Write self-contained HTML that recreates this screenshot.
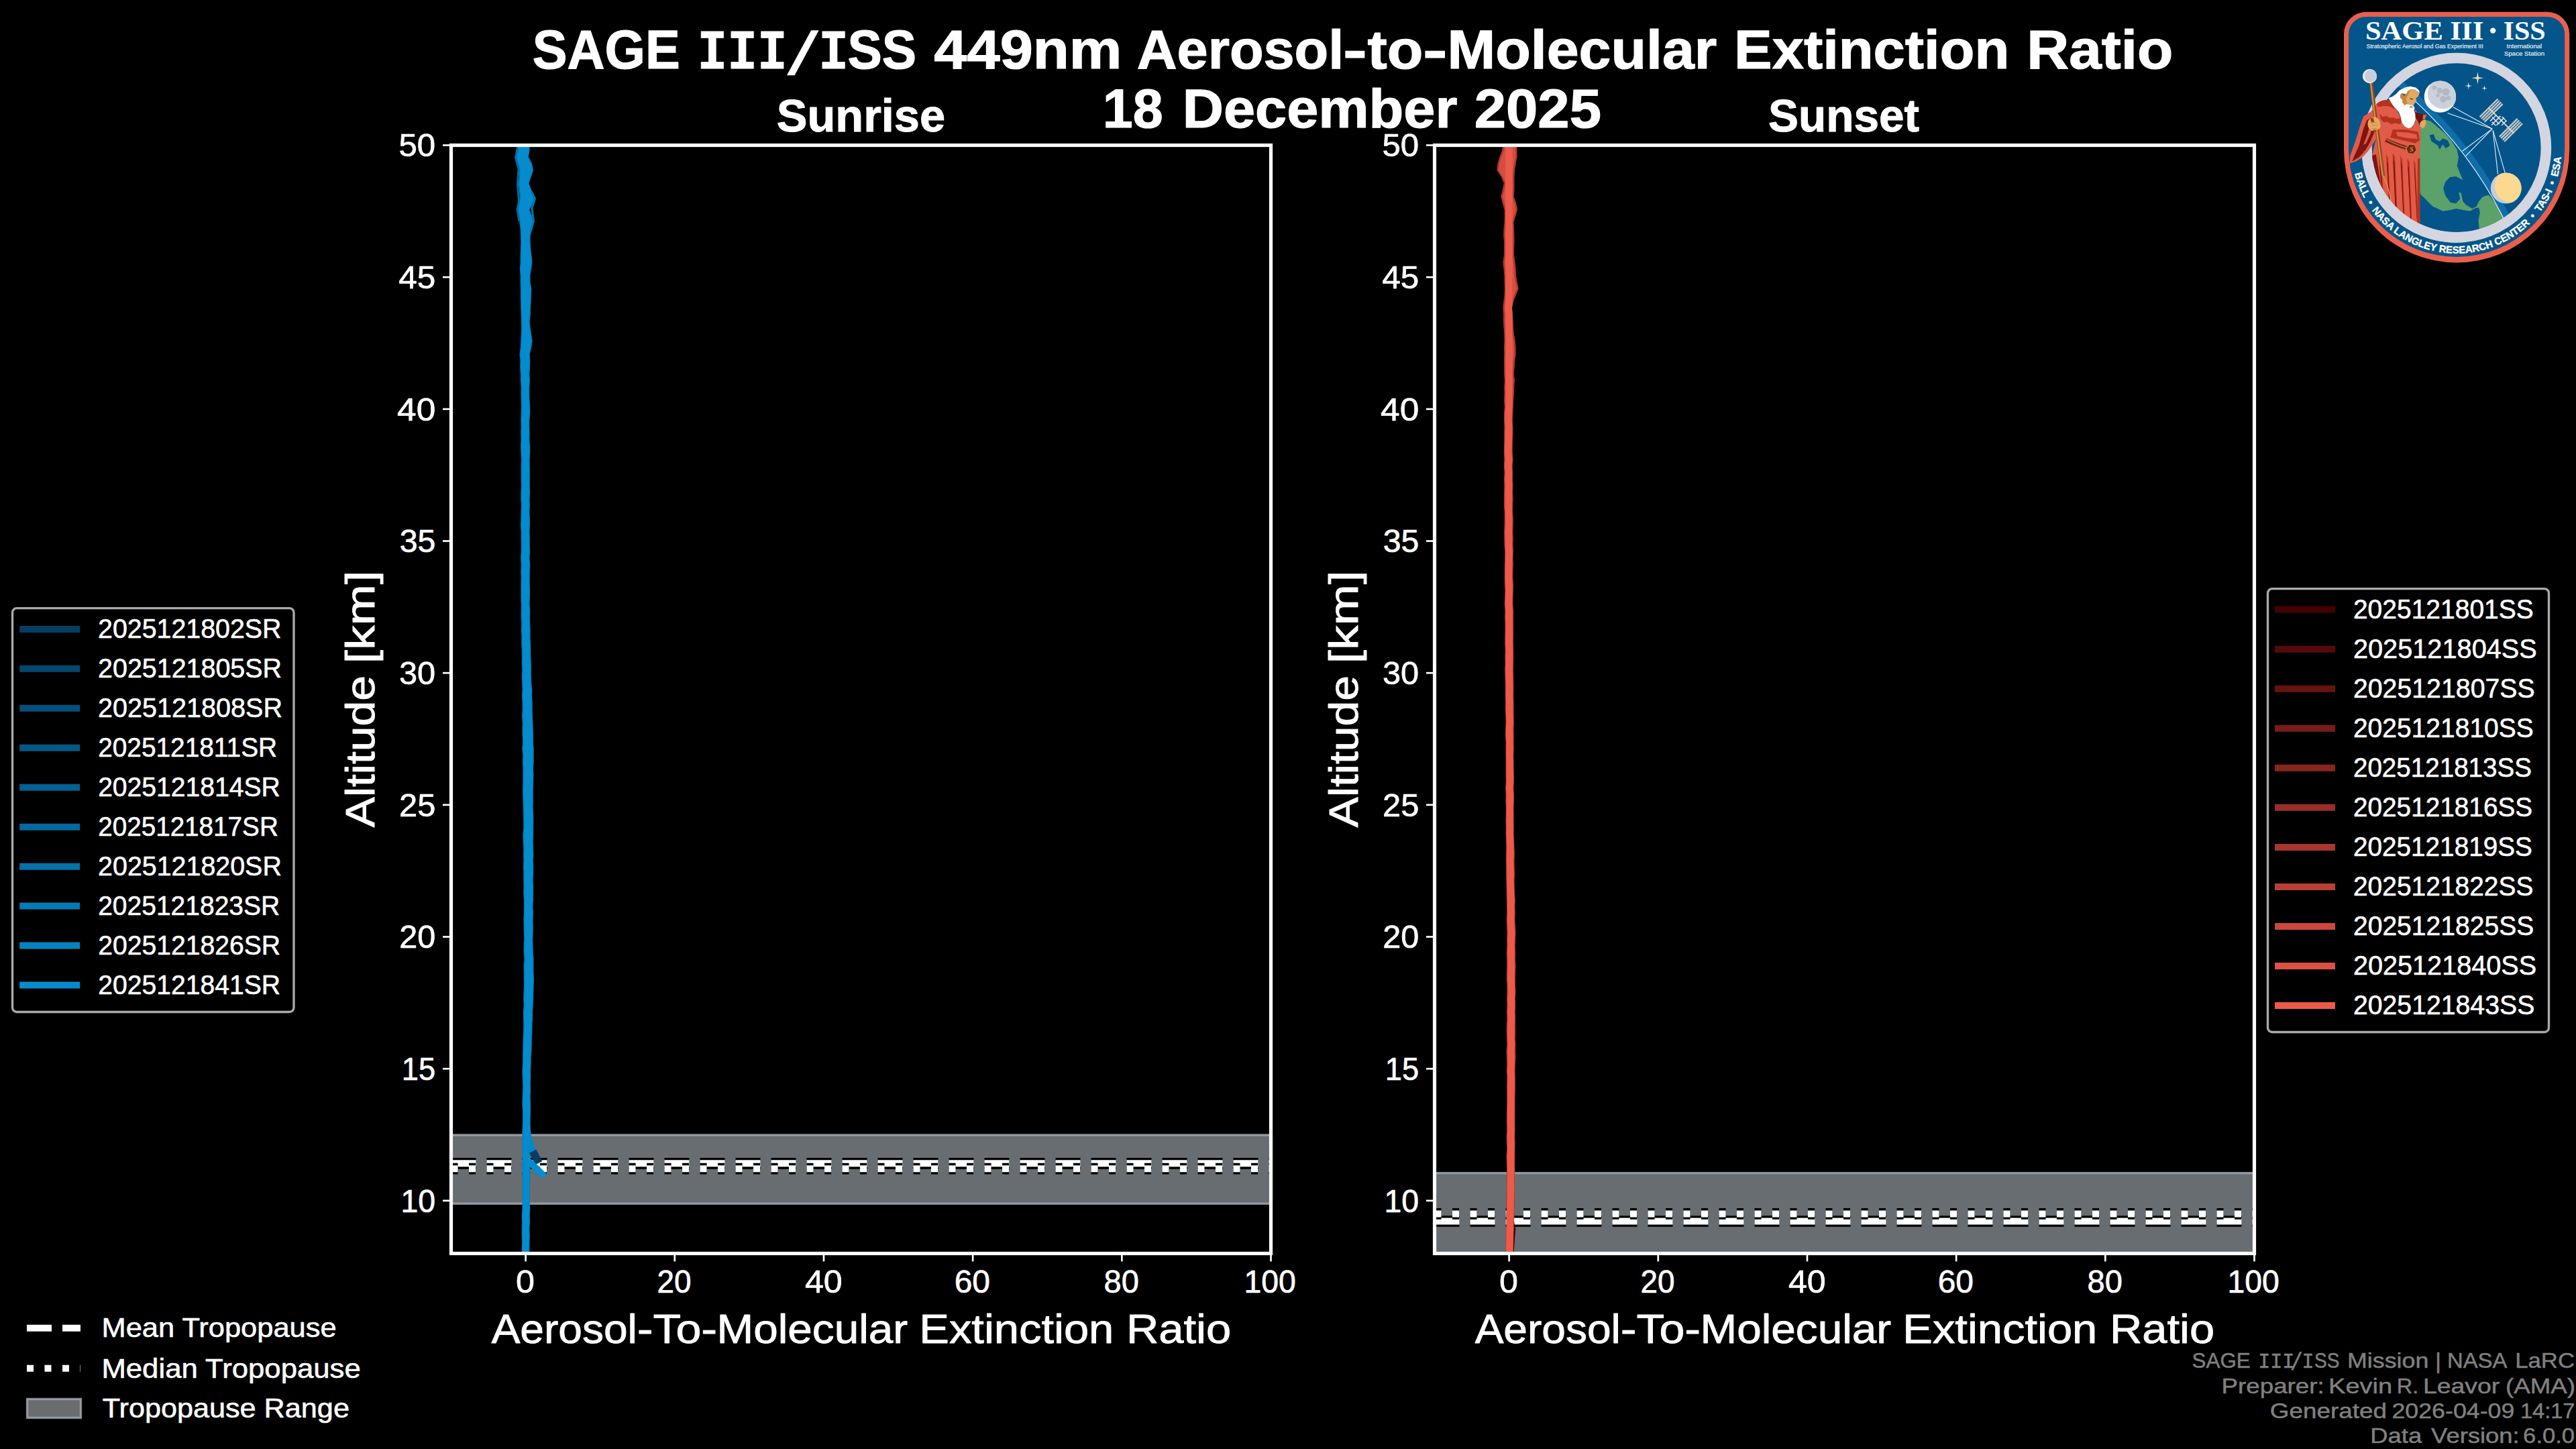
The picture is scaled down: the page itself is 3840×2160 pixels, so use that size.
<!DOCTYPE html>
<html><head><meta charset="utf-8"><title>SAGE III/ISS 449nm Aerosol-to-Molecular Extinction Ratio</title>
<style>html,body{margin:0;padding:0;background:#000;overflow:hidden}svg{display:block}text{white-space:pre}</style></head><body>
<svg width="3840" height="2160" viewBox="0 0 3840 2160">
<rect width="3840" height="2160" fill="#000"/>
<defs>
<clipPath id="cp0"><rect x="672.5" y="216.5" width="1222.0" height="1652.0"/></clipPath>
<clipPath id="cp1"><rect x="2138.5" y="216.5" width="1222.0" height="1652.0"/></clipPath>
</defs>
<g clip-path="url(#cp0)">
<rect x="667.5" y="1691.9" width="1232.0" height="102.4" fill="#686d71" stroke="#adb5bd" stroke-opacity="0.75" stroke-width="3.33"/>
<line x1="672.5" y1="1734.3" x2="1894.5" y2="1734.3" stroke="#000" stroke-width="16.67" stroke-dasharray="37 16"/>
<line x1="672.5" y1="1734.3" x2="1894.5" y2="1734.3" stroke="#fff" stroke-width="10" stroke-dasharray="37 16"/>
<line x1="672.5" y1="1742.2" x2="1894.5" y2="1742.2" stroke="#000" stroke-width="16.67" stroke-dasharray="10 16.5"/>
<line x1="672.5" y1="1742.2" x2="1894.5" y2="1742.2" stroke="#fff" stroke-width="10" stroke-dasharray="10 16.5"/>
<polygon points="771.0,214.5 770.0,224.3 768.0,234.1 771.0,243.9 774.1,253.7 773.9,263.5 772.7,273.3 773.7,283.1 774.9,292.9 773.2,302.7 770.7,312.5 772.9,322.3 774.4,332.1 775.6,341.9 776.1,351.7 776.2,361.5 775.9,371.3 775.6,381.1 775.6,390.9 774.8,400.7 775.6,410.5 775.6,420.3 775.9,430.1 775.8,439.9 776.1,449.7 776.2,459.5 776.6,469.3 776.8,479.1 777.1,488.9 776.7,498.7 776.2,508.5 775.7,518.3 774.5,528.1 775.4,537.9 775.1,547.7 775.9,557.5 775.9,567.3 776.6,577.1 776.4,586.9 776.6,596.7 776.9,606.5 776.5,616.3 776.3,626.1 776.6,635.9 776.2,645.7 776.6,655.5 776.0,665.3 776.3,675.1 776.9,684.9 776.5,694.7 776.6,704.5 776.6,714.3 776.9,724.1 776.4,733.9 776.2,743.7 777.0,753.5 776.5,763.3 776.4,773.1 776.0,782.9 776.6,792.7 776.6,802.5 776.7,812.3 776.7,822.1 776.0,831.9 776.7,841.7 776.3,851.5 776.6,861.3 776.4,871.1 776.4,880.9 776.3,890.7 776.8,900.5 776.7,910.3 776.6,920.1 777.3,929.9 776.8,939.7 777.4,949.5 777.2,959.3 777.9,969.1 778.0,978.9 777.7,988.7 778.4,998.5 777.8,1008.3 778.2,1018.1 778.5,1027.9 777.9,1037.7 778.6,1047.5 778.7,1057.3 778.1,1067.1 778.8,1076.9 778.5,1086.7 778.6,1096.5 779.2,1106.3 778.3,1116.1 779.3,1125.9 778.9,1135.7 779.5,1145.5 779.4,1155.3 779.4,1165.1 779.1,1174.9 779.2,1184.7 779.6,1194.5 779.9,1204.3 780.1,1214.1 780.2,1223.9 780.3,1233.7 779.5,1243.5 779.7,1253.3 780.3,1263.1 780.1,1272.9 780.3,1282.7 780.0,1292.5 780.3,1302.3 780.3,1312.1 780.5,1321.9 780.2,1331.7 781.0,1341.5 781.0,1351.3 780.9,1361.1 780.4,1370.9 780.6,1380.7 780.9,1390.5 781.3,1400.3 780.6,1410.1 780.6,1419.9 781.5,1429.7 780.6,1439.5 780.8,1449.3 780.9,1459.1 781.0,1468.9 780.5,1478.7 780.2,1488.5 780.7,1498.3 779.9,1508.1 780.0,1517.9 780.3,1527.7 780.1,1537.5 779.6,1547.3 779.5,1557.1 779.2,1566.9 779.1,1576.7 779.0,1586.5 778.4,1596.3 778.7,1606.1 779.2,1615.9 779.2,1625.7 778.6,1635.5 778.4,1645.3 779.0,1655.1 779.1,1664.9 779.0,1674.7 778.4,1684.5 778.3,1694.3 779.0,1704.1 778.3,1713.9 779.0,1723.7 778.1,1733.5 778.2,1743.3 778.7,1753.1 778.9,1762.9 778.7,1772.7 778.6,1782.5 778.5,1792.3 778.4,1802.1 777.7,1811.9 778.1,1821.7 777.8,1831.5 777.7,1841.3 778.2,1851.1 777.7,1860.9 777.7,1870.7 777.4,1880.5 789.4,1880.5 789.3,1870.7 789.4,1860.9 789.5,1851.1 789.8,1841.3 789.4,1831.5 790.1,1821.7 789.7,1811.9 790.4,1802.1 789.6,1792.3 790.1,1782.5 789.6,1772.7 790.2,1762.9 790.5,1753.1 790.6,1743.3 790.6,1733.5 790.0,1723.7 789.9,1713.9 789.9,1704.1 790.1,1694.3 790.6,1684.5 790.6,1674.7 790.8,1664.9 791.1,1655.1 791.0,1645.3 790.7,1635.5 791.1,1625.7 790.8,1615.9 791.3,1606.1 791.0,1596.3 791.6,1586.5 791.6,1576.7 792.4,1566.9 792.8,1557.1 792.8,1547.3 793.4,1537.5 793.5,1527.7 794.1,1517.9 794.1,1508.1 794.7,1498.3 795.2,1488.5 795.3,1478.7 795.8,1468.9 796.0,1459.1 795.5,1449.3 795.5,1439.5 795.6,1429.7 794.7,1419.9 794.5,1410.1 794.2,1400.3 794.7,1390.5 794.8,1380.7 794.5,1370.9 795.1,1361.1 794.3,1351.3 795.1,1341.5 795.1,1331.7 795.2,1321.9 794.6,1312.1 795.2,1302.3 795.3,1292.5 794.8,1282.7 795.4,1272.9 795.0,1263.1 794.8,1253.3 795.3,1243.5 795.1,1233.7 795.4,1223.9 795.3,1214.1 794.6,1204.3 794.9,1194.5 794.7,1184.7 795.0,1174.9 795.2,1165.1 795.5,1155.3 794.9,1145.5 795.7,1135.7 795.7,1125.9 795.7,1116.1 794.9,1106.3 795.1,1096.5 794.8,1086.7 794.3,1076.9 794.0,1067.1 793.7,1057.3 793.7,1047.5 793.0,1037.7 793.3,1027.9 792.3,1018.1 791.9,1008.3 791.9,998.5 791.9,988.7 791.2,978.9 791.3,969.1 791.0,959.3 790.6,949.5 790.7,939.7 790.3,929.9 790.1,920.1 790.4,910.3 789.5,900.5 789.9,890.7 790.1,880.9 789.8,871.1 789.8,861.3 789.9,851.5 790.4,841.7 789.5,831.9 790.2,822.1 789.8,812.3 789.9,802.5 789.5,792.7 790.0,782.9 790.0,773.1 789.4,763.3 789.9,753.5 789.6,743.7 790.1,733.9 789.8,724.1 789.9,714.3 789.9,704.5 789.8,694.7 789.7,684.9 790.3,675.1 790.2,665.3 789.4,655.5 789.7,645.7 789.3,635.9 789.4,626.1 790.3,616.3 790.3,606.5 789.6,596.7 789.3,586.9 789.3,577.1 790.0,567.3 789.4,557.5 790.1,547.7 790.3,537.9 789.8,528.1 792.1,518.3 793.6,508.5 792.2,498.7 790.7,488.9 789.7,479.1 790.8,469.3 791.0,459.5 791.6,449.7 792.0,439.9 792.3,430.1 790.6,420.3 790.5,410.5 792.1,400.7 793.3,390.9 792.5,381.1 791.2,371.3 790.7,361.5 790.7,351.7 793.1,341.9 795.5,332.1 793.2,322.3 789.4,312.5 794.8,302.7 797.2,292.9 792.2,283.1 788.5,273.3 791.9,263.5 795.1,253.7 793.0,243.9 788.0,234.1 789.5,224.3 789.8,214.5" fill="#057ebb"/>
<polygon points="772.8,214.5 771.8,224.3 769.8,234.1 772.8,243.9 775.9,253.7 775.7,263.5 774.5,273.3 775.5,283.1 776.7,292.9 775.0,302.7 772.5,312.5 774.7,322.3 776.2,332.1 777.4,341.9 777.9,351.7 778.0,361.5 777.7,371.3 777.4,381.1 777.4,390.9 776.6,400.7 777.4,410.5 777.4,420.3 777.7,430.1 777.6,439.9 777.9,449.7 778.0,459.5 778.4,469.3 778.6,479.1 778.9,488.9 778.5,498.7 778.0,508.5 777.5,518.3 776.3,528.1 777.2,537.9 776.9,547.7 777.7,557.5 777.7,567.3 778.4,577.1 778.2,586.9 778.4,596.7 778.7,606.5 778.3,616.3 778.1,626.1 778.4,635.9 778.0,645.7 778.4,655.5 777.8,665.3 778.1,675.1 778.7,684.9 778.3,694.7 778.4,704.5 778.4,714.3 778.7,724.1 778.2,733.9 778.0,743.7 778.8,753.5 778.3,763.3 778.2,773.1 777.8,782.9 778.4,792.7 778.4,802.5 778.5,812.3 778.5,822.1 777.8,831.9 778.5,841.7 778.1,851.5 778.4,861.3 778.2,871.1 778.2,880.9 778.1,890.7 778.6,900.5 778.5,910.3 778.4,920.1 779.1,929.9 778.6,939.7 779.2,949.5 779.0,959.3 779.7,969.1 779.8,978.9 779.5,988.7 780.2,998.5 779.6,1008.3 780.0,1018.1 780.3,1027.9 779.7,1037.7 780.4,1047.5 780.5,1057.3 779.9,1067.1 780.6,1076.9 780.3,1086.7 780.4,1096.5 781.0,1106.3 780.1,1116.1 781.1,1125.9 780.7,1135.7 781.3,1145.5 781.2,1155.3 781.2,1165.1 780.9,1174.9 781.0,1184.7 781.4,1194.5 781.7,1204.3 781.9,1214.1 782.0,1223.9 782.1,1233.7 781.3,1243.5 781.5,1253.3 782.1,1263.1 781.9,1272.9 782.1,1282.7 781.8,1292.5 782.1,1302.3 782.1,1312.1 782.3,1321.9 782.0,1331.7 782.8,1341.5 782.8,1351.3 782.7,1361.1 782.2,1370.9 782.4,1380.7 782.7,1390.5 783.1,1400.3 782.4,1410.1 782.4,1419.9 783.3,1429.7 782.4,1439.5 782.6,1449.3 782.7,1459.1 782.8,1468.9 782.3,1478.7 782.0,1488.5 782.5,1498.3 781.7,1508.1 781.8,1517.9 782.1,1527.7 781.9,1537.5 781.4,1547.3 781.3,1557.1 781.0,1566.9 780.9,1576.7 780.8,1586.5 780.2,1596.3 780.5,1606.1 781.0,1615.9 781.0,1625.7 780.4,1635.5 780.2,1645.3 780.8,1655.1 780.9,1664.9 780.8,1674.7 780.2,1684.5 780.1,1694.3 780.8,1704.1 780.1,1713.9 780.8,1723.7 779.9,1733.5 780.0,1743.3 780.5,1753.1 780.7,1762.9 780.5,1772.7 780.4,1782.5 780.3,1792.3 780.2,1802.1 779.5,1811.9 779.9,1821.7 779.6,1831.5 779.5,1841.3 780.0,1851.1 779.5,1860.9 779.5,1870.7 779.2,1880.5 787.6,1880.5 787.5,1870.7 787.6,1860.9 787.7,1851.1 788.0,1841.3 787.6,1831.5 788.3,1821.7 787.9,1811.9 788.6,1802.1 787.8,1792.3 788.3,1782.5 787.8,1772.7 788.4,1762.9 788.7,1753.1 788.8,1743.3 788.8,1733.5 788.2,1723.7 788.1,1713.9 788.1,1704.1 788.3,1694.3 788.8,1684.5 788.8,1674.7 789.0,1664.9 789.3,1655.1 789.2,1645.3 788.9,1635.5 789.3,1625.7 789.0,1615.9 789.5,1606.1 789.2,1596.3 789.8,1586.5 789.8,1576.7 790.6,1566.9 791.0,1557.1 791.0,1547.3 791.6,1537.5 791.7,1527.7 792.3,1517.9 792.3,1508.1 792.9,1498.3 793.4,1488.5 793.5,1478.7 794.0,1468.9 794.2,1459.1 793.7,1449.3 793.7,1439.5 793.8,1429.7 792.9,1419.9 792.7,1410.1 792.4,1400.3 792.9,1390.5 793.0,1380.7 792.7,1370.9 793.3,1361.1 792.5,1351.3 793.3,1341.5 793.3,1331.7 793.4,1321.9 792.8,1312.1 793.4,1302.3 793.5,1292.5 793.0,1282.7 793.6,1272.9 793.2,1263.1 793.0,1253.3 793.5,1243.5 793.3,1233.7 793.6,1223.9 793.5,1214.1 792.8,1204.3 793.1,1194.5 792.9,1184.7 793.2,1174.9 793.4,1165.1 793.7,1155.3 793.1,1145.5 793.9,1135.7 793.9,1125.9 793.9,1116.1 793.1,1106.3 793.3,1096.5 793.0,1086.7 792.5,1076.9 792.2,1067.1 791.9,1057.3 791.9,1047.5 791.2,1037.7 791.5,1027.9 790.5,1018.1 790.1,1008.3 790.1,998.5 790.1,988.7 789.4,978.9 789.5,969.1 789.2,959.3 788.8,949.5 788.9,939.7 788.5,929.9 788.3,920.1 788.6,910.3 787.7,900.5 788.1,890.7 788.3,880.9 788.0,871.1 788.0,861.3 788.1,851.5 788.6,841.7 787.7,831.9 788.4,822.1 788.0,812.3 788.1,802.5 787.7,792.7 788.2,782.9 788.2,773.1 787.6,763.3 788.1,753.5 787.8,743.7 788.3,733.9 788.0,724.1 788.1,714.3 788.1,704.5 788.0,694.7 787.9,684.9 788.5,675.1 788.4,665.3 787.6,655.5 787.9,645.7 787.5,635.9 787.6,626.1 788.5,616.3 788.5,606.5 787.8,596.7 787.5,586.9 787.5,577.1 788.2,567.3 787.6,557.5 788.3,547.7 788.5,537.9 788.0,528.1 790.3,518.3 791.8,508.5 790.4,498.7 788.9,488.9 787.9,479.1 789.0,469.3 789.2,459.5 789.8,449.7 790.2,439.9 790.5,430.1 788.8,420.3 788.7,410.5 790.3,400.7 791.5,390.9 790.7,381.1 789.4,371.3 788.9,361.5 788.9,351.7 791.3,341.9 793.7,332.1 791.4,322.3 787.6,312.5 793.0,302.7 795.4,292.9 790.4,283.1 786.7,273.3 790.1,263.5 793.3,253.7 791.2,243.9 786.2,234.1 787.7,224.3 788.0,214.5" fill="#058cce"/>
<path d="M772,217 L768.5,235 L773,252 L771.5,275 L773.5,300 L771,312 L774,330" fill="none" stroke="#05699e" stroke-width="3"/>
<path d="M792,285 L797.5,296 L793,310 L795.5,330 L791,345" fill="none" stroke="#0575ae" stroke-width="3"/>
<path d="M784.6,1672 Q786,1690 788.6,1700 T797.5,1723" fill="none" stroke="#0588c9" stroke-width="10"/>
<path d="M794.2,1716.2 L803.2,1733.6" fill="none" stroke="#043e64" stroke-width="11.5"/>
<path d="M786,1729 L811.6,1753.6" fill="none" stroke="#058cce" stroke-width="10"/>
<polyline points="783.6,606.5 783.4,616.3 782.8,626.1 783.0,635.9 783.0,645.7 783.0,655.5 783.1,665.3 783.3,675.1 783.3,684.9 783.1,694.7 783.3,704.5 783.2,714.3 783.4,724.1 783.2,733.9 782.9,743.7 783.4,753.5 783.0,763.3 783.2,773.1 783.0,782.9 783.0,792.7 783.2,802.5 783.2,812.3 783.4,822.1 782.8,831.9 783.5,841.7 783.1,851.5 783.2,861.3 783.1,871.1 783.2,880.9 783.1,890.7 783.2,900.5 783.6,910.3 783.4,920.1 783.8,929.9 783.8,939.7 784.0,949.5 784.1,959.3 784.6,969.1 784.6,978.9 784.8,988.7 785.1,998.5 784.8,1008.3 785.2,1018.1 785.9,1027.9 785.5,1037.7 786.2,1047.5 786.2,1057.3 786.1,1067.1 786.6,1076.9 786.6,1086.7 786.8,1096.5 787.1,1106.3 787.0,1116.1 787.5,1125.9 787.3,1135.7 787.2,1145.5 787.5,1155.3 787.3,1165.1 787.1,1174.9 786.9,1184.7 787.3,1194.5 787.3,1204.3 787.7,1214.1 787.8,1223.9 787.7,1233.7 787.4,1243.5 787.2,1253.3 787.6,1263.1 787.7,1272.9 787.6,1282.7 787.7,1292.5 787.8,1302.3 787.4,1312.1 787.8,1321.9 787.7,1331.7 788.1,1341.5 787.7,1351.3 788.0,1361.1 787.4,1370.9 787.7,1380.7 787.8,1390.5 787.7,1400.3 787.5,1410.1 787.6,1419.9 788.6,1429.7 788.0,1439.5 788.2,1449.3 788.4,1459.1 788.4,1468.9 787.9,1478.7 787.7,1488.5 787.7,1498.3 787.0,1508.1 787.1,1517.9 786.9,1527.7 786.8,1537.5 786.2,1547.3 786.1,1557.1 785.8,1566.9 785.3,1576.7 785.3,1586.5 784.7,1596.3 785.0,1606.1 785.0,1615.9 785.2,1625.7 784.7,1635.5 784.7,1645.3 785.0,1655.1 784.9,1664.9 784.8,1674.7 784.5,1684.5 784.2,1694.3 784.5,1704.1 784.1,1713.9 784.5,1723.7 784.4,1733.5 784.4,1743.3 784.6,1753.1 784.6,1762.9 784.2,1772.7 784.3,1782.5 784.0,1792.3 784.4,1802.1 783.7,1811.9 784.1,1821.7 783.6,1831.5 783.7,1841.3 783.8,1851.1 783.6,1860.9 783.5,1870.7 783.4,1880.5" fill="none" stroke="#058cce" stroke-width="9"/>
</g>
<rect x="672.5" y="216.5" width="1222.0" height="1652.0" fill="none" stroke="#fff" stroke-width="5.2"/>
<line x1="660.00" y1="1789.83" x2="672.5" y2="1789.83" stroke="#fff" stroke-width="2.67"/>
<line x1="660.00" y1="1593.17" x2="672.5" y2="1593.17" stroke="#fff" stroke-width="2.67"/>
<line x1="660.00" y1="1396.50" x2="672.5" y2="1396.50" stroke="#fff" stroke-width="2.67"/>
<line x1="660.00" y1="1199.83" x2="672.5" y2="1199.83" stroke="#fff" stroke-width="2.67"/>
<line x1="660.00" y1="1003.17" x2="672.5" y2="1003.17" stroke="#fff" stroke-width="2.67"/>
<line x1="660.00" y1="806.50" x2="672.5" y2="806.50" stroke="#fff" stroke-width="2.67"/>
<line x1="660.00" y1="609.83" x2="672.5" y2="609.83" stroke="#fff" stroke-width="2.67"/>
<line x1="660.00" y1="413.17" x2="672.5" y2="413.17" stroke="#fff" stroke-width="2.67"/>
<line x1="660.00" y1="216.50" x2="672.5" y2="216.50" stroke="#fff" stroke-width="2.67"/>
<line x1="783.59" y1="1868.5" x2="783.59" y2="1880.40" stroke="#fff" stroke-width="2.67"/>
<line x1="1005.77" y1="1868.5" x2="1005.77" y2="1880.40" stroke="#fff" stroke-width="2.67"/>
<line x1="1227.95" y1="1868.5" x2="1227.95" y2="1880.40" stroke="#fff" stroke-width="2.67"/>
<line x1="1450.14" y1="1868.5" x2="1450.14" y2="1880.40" stroke="#fff" stroke-width="2.67"/>
<line x1="1672.32" y1="1868.5" x2="1672.32" y2="1880.40" stroke="#fff" stroke-width="2.67"/>
<line x1="1894.50" y1="1868.5" x2="1894.50" y2="1880.40" stroke="#fff" stroke-width="2.67"/>
<g clip-path="url(#cp1)">
<rect x="2133.5" y="1748.6" width="1232.0" height="151.4" fill="#686d71" stroke="#adb5bd" stroke-opacity="0.75" stroke-width="3.33"/>
<line x1="2138.5" y1="1820.5" x2="3360.5" y2="1820.5" stroke="#000" stroke-width="16.67" stroke-dasharray="37 16"/>
<line x1="2138.5" y1="1820.5" x2="3360.5" y2="1820.5" stroke="#fff" stroke-width="10" stroke-dasharray="37 16"/>
<line x1="2138.5" y1="1809.4" x2="3360.5" y2="1809.4" stroke="#000" stroke-width="16.67" stroke-dasharray="10 16.5"/>
<line x1="2138.5" y1="1809.4" x2="3360.5" y2="1809.4" stroke="#fff" stroke-width="10" stroke-dasharray="10 16.5"/>
<polygon points="2254,1816 2256.3,1818 2259.3,1832 2257.8,1850 2256.4,1870 2252,1870" fill="#440102"/>
<polygon points="2240.6,214.5 2239.1,224.3 2235.4,234.1 2232.5,243.9 2231.3,253.7 2237.7,263.5 2241.8,273.3 2239.8,283.1 2237.2,292.9 2239.8,302.7 2242.6,312.5 2242.7,322.3 2242.5,332.1 2241.4,341.9 2241.1,351.7 2242.1,361.5 2241.9,371.3 2241.8,381.1 2240.3,390.9 2241.4,400.7 2242.4,410.5 2242.5,420.3 2242.8,430.1 2242.5,439.9 2241.2,449.7 2240.3,459.5 2241.1,469.3 2240.9,479.1 2241.6,488.9 2242.2,498.7 2242.4,508.5 2241.9,518.3 2242.2,528.1 2241.9,537.9 2242.1,547.7 2242.1,557.5 2242.8,567.3 2242.2,577.1 2242.4,586.9 2242.0,596.7 2242.7,606.5 2241.9,616.3 2241.9,626.1 2242.4,635.9 2242.1,645.7 2242.2,655.5 2242.0,665.3 2241.7,675.1 2242.3,684.9 2241.7,694.7 2242.5,704.5 2242.0,714.3 2242.2,724.1 2242.1,733.9 2241.8,743.7 2241.8,753.5 2242.7,763.3 2242.6,773.1 2242.5,782.9 2242.1,792.7 2242.2,802.5 2242.4,812.3 2243.1,822.1 2243.1,831.9 2242.7,841.7 2242.7,851.5 2242.7,861.3 2242.7,871.1 2243.4,880.9 2243.0,890.7 2242.6,900.5 2243.3,910.3 2243.0,920.1 2243.4,929.9 2243.4,939.7 2243.1,949.5 2243.1,959.3 2243.6,969.1 2243.2,978.9 2243.6,988.7 2243.0,998.5 2243.3,1008.3 2243.6,1018.1 2243.8,1027.9 2243.6,1037.7 2244.0,1047.5 2243.7,1057.3 2244.3,1067.1 2244.5,1076.9 2244.1,1086.7 2243.8,1096.5 2244.6,1106.3 2244.4,1116.1 2244.5,1125.9 2244.6,1135.7 2244.6,1145.5 2244.6,1155.3 2244.7,1165.1 2244.1,1174.9 2244.6,1184.7 2244.4,1194.5 2244.9,1204.3 2244.8,1214.1 2244.5,1223.9 2244.8,1233.7 2244.7,1243.5 2245.0,1253.3 2245.3,1263.1 2244.9,1272.9 2244.8,1282.7 2245.1,1292.5 2245.0,1302.3 2245.3,1312.1 2245.6,1321.9 2245.6,1331.7 2245.7,1341.5 2246.0,1351.3 2246.1,1361.1 2245.7,1370.9 2246.0,1380.7 2246.4,1390.5 2246.1,1400.3 2246.4,1410.1 2245.6,1419.9 2246.1,1429.7 2246.1,1439.5 2245.9,1449.3 2245.7,1459.1 2246.5,1468.9 2246.5,1478.7 2246.1,1488.5 2246.5,1498.3 2245.9,1508.1 2246.5,1517.9 2245.8,1527.7 2245.6,1537.5 2245.9,1547.3 2246.3,1557.1 2245.5,1566.9 2245.8,1576.7 2246.3,1586.5 2245.8,1596.3 2246.5,1606.1 2246.1,1615.9 2246.1,1625.7 2246.2,1635.5 2246.2,1645.3 2246.0,1655.1 2245.8,1664.9 2245.9,1674.7 2246.2,1684.5 2245.5,1694.3 2245.9,1704.1 2246.3,1713.9 2245.4,1723.7 2245.9,1733.5 2246.1,1743.3 2245.9,1753.1 2245.8,1762.9 2246.3,1772.7 2245.7,1782.5 2245.3,1792.3 2245.7,1802.1 2245.2,1811.9 2245.6,1821.7 2245.0,1831.5 2244.9,1841.3 2244.4,1851.1 2244.9,1860.9 2244.2,1870.7 2244.7,1880.5 2256.0,1880.5 2256.1,1870.7 2255.6,1860.9 2256.3,1851.1 2256.3,1841.3 2256.7,1831.5 2256.5,1821.7 2257.4,1811.9 2257.3,1802.1 2257.9,1792.3 2258.1,1782.5 2257.5,1772.7 2257.8,1762.9 2258.4,1753.1 2258.2,1743.3 2258.2,1733.5 2258.5,1723.7 2258.3,1713.9 2258.7,1704.1 2258.1,1694.3 2258.5,1684.5 2258.4,1674.7 2258.6,1664.9 2258.5,1655.1 2258.5,1645.3 2258.4,1635.5 2258.9,1625.7 2258.9,1615.9 2258.8,1606.1 2258.7,1596.3 2258.8,1586.5 2259.5,1576.7 2259.1,1566.9 2259.4,1557.1 2258.8,1547.3 2259.2,1537.5 2259.0,1527.7 2259.1,1517.9 2258.9,1508.1 2259.1,1498.3 2258.9,1488.5 2259.5,1478.7 2259.0,1468.9 2258.9,1459.1 2259.1,1449.3 2259.6,1439.5 2258.8,1429.7 2259.2,1419.9 2258.7,1410.1 2259.1,1400.3 2259.5,1390.5 2259.0,1380.7 2258.4,1370.9 2258.8,1361.1 2258.4,1351.3 2258.9,1341.5 2258.1,1331.7 2257.7,1321.9 2257.5,1312.1 2258.2,1302.3 2257.6,1292.5 2257.5,1282.7 2257.9,1272.9 2257.4,1263.1 2257.1,1253.3 2256.6,1243.5 2256.7,1233.7 2256.6,1223.9 2256.6,1214.1 2256.4,1204.3 2257.0,1194.5 2256.9,1184.7 2256.4,1174.9 2256.9,1165.1 2256.9,1155.3 2256.5,1145.5 2256.6,1135.7 2256.2,1125.9 2256.7,1116.1 2256.4,1106.3 2256.7,1096.5 2256.4,1086.7 2256.8,1076.9 2256.5,1067.1 2256.6,1057.3 2256.5,1047.5 2256.3,1037.7 2256.4,1027.9 2256.4,1018.1 2256.2,1008.3 2256.0,998.5 2256.1,988.7 2256.4,978.9 2256.1,969.1 2255.9,959.3 2256.1,949.5 2256.1,939.7 2256.0,929.9 2256.1,920.1 2256.1,910.3 2255.5,900.5 2255.5,890.7 2255.8,880.9 2256.1,871.1 2255.3,861.3 2255.4,851.5 2255.8,841.7 2255.5,831.9 2255.9,822.1 2255.5,812.3 2255.8,802.5 2255.4,792.7 2255.7,782.9 2255.8,773.1 2255.0,763.3 2255.3,753.5 2255.7,743.7 2255.2,733.9 2255.6,724.1 2255.0,714.3 2255.2,704.5 2254.7,694.7 2255.7,684.9 2254.8,675.1 2254.8,665.3 2255.0,655.5 2255.6,645.7 2255.5,635.9 2254.9,626.1 2255.5,616.3 2255.7,606.5 2256.2,596.7 2256.9,586.9 2257.2,577.1 2258.1,567.3 2256.7,557.5 2257.7,547.7 2258.2,537.9 2259.7,528.1 2259.5,518.3 2258.8,508.5 2257.0,498.7 2256.0,488.9 2255.7,479.1 2255.0,469.3 2254.1,459.5 2256.2,449.7 2259.8,439.9 2263.8,430.1 2261.6,420.3 2260.0,410.5 2259.7,400.7 2258.6,390.9 2257.1,381.1 2257.0,371.3 2257.6,361.5 2257.4,351.7 2257.2,341.9 2256.4,332.1 2259.3,322.3 2262.1,312.5 2260.2,302.7 2256.7,292.9 2257.5,283.1 2257.5,273.3 2257.5,263.5 2258.1,253.7 2259.6,243.9 2261.6,234.1 2261.6,224.3 2261.4,214.5" fill="#ad382e"/>
<polygon points="2243.1,214.5 2241.6,224.3 2237.9,234.1 2235.0,243.9 2233.8,253.7 2240.2,263.5 2244.3,273.3 2242.3,283.1 2239.7,292.9 2242.3,302.7 2245.1,312.5 2245.2,322.3 2245.0,332.1 2243.9,341.9 2243.6,351.7 2244.6,361.5 2244.4,371.3 2244.3,381.1 2242.8,390.9 2243.9,400.7 2244.9,410.5 2245.0,420.3 2245.3,430.1 2245.0,439.9 2243.7,449.7 2242.8,459.5 2243.6,469.3 2243.4,479.1 2244.1,488.9 2244.7,498.7 2244.9,508.5 2244.4,518.3 2244.7,528.1 2244.4,537.9 2244.6,547.7 2244.6,557.5 2245.3,567.3 2244.7,577.1 2244.9,586.9 2244.5,596.7 2245.2,606.5 2244.4,616.3 2244.4,626.1 2244.9,635.9 2244.6,645.7 2244.7,655.5 2244.5,665.3 2244.2,675.1 2244.8,684.9 2244.2,694.7 2245.0,704.5 2244.5,714.3 2244.7,724.1 2244.6,733.9 2244.3,743.7 2244.3,753.5 2245.2,763.3 2245.1,773.1 2245.0,782.9 2244.6,792.7 2244.7,802.5 2244.9,812.3 2245.6,822.1 2245.6,831.9 2245.2,841.7 2245.2,851.5 2245.2,861.3 2245.2,871.1 2245.9,880.9 2245.5,890.7 2245.1,900.5 2245.8,910.3 2245.5,920.1 2245.9,929.9 2245.9,939.7 2245.6,949.5 2245.6,959.3 2246.1,969.1 2245.7,978.9 2246.1,988.7 2245.5,998.5 2245.8,1008.3 2246.1,1018.1 2246.3,1027.9 2246.1,1037.7 2246.5,1047.5 2246.2,1057.3 2246.8,1067.1 2247.0,1076.9 2246.6,1086.7 2246.3,1096.5 2247.1,1106.3 2246.9,1116.1 2247.0,1125.9 2247.1,1135.7 2247.1,1145.5 2247.1,1155.3 2247.2,1165.1 2246.6,1174.9 2247.1,1184.7 2246.9,1194.5 2247.4,1204.3 2247.3,1214.1 2247.0,1223.9 2247.3,1233.7 2247.2,1243.5 2247.5,1253.3 2247.8,1263.1 2247.4,1272.9 2247.3,1282.7 2247.6,1292.5 2247.5,1302.3 2247.8,1312.1 2248.1,1321.9 2248.1,1331.7 2248.2,1341.5 2248.5,1351.3 2248.6,1361.1 2248.2,1370.9 2248.5,1380.7 2248.9,1390.5 2248.6,1400.3 2248.9,1410.1 2248.1,1419.9 2248.6,1429.7 2248.6,1439.5 2248.4,1449.3 2248.2,1459.1 2249.0,1468.9 2249.0,1478.7 2248.6,1488.5 2249.0,1498.3 2248.4,1508.1 2249.0,1517.9 2248.3,1527.7 2248.1,1537.5 2248.4,1547.3 2248.8,1557.1 2248.0,1566.9 2248.3,1576.7 2248.8,1586.5 2248.3,1596.3 2249.0,1606.1 2248.6,1615.9 2248.6,1625.7 2248.7,1635.5 2248.7,1645.3 2248.5,1655.1 2248.3,1664.9 2248.4,1674.7 2248.7,1684.5 2248.0,1694.3 2248.4,1704.1 2248.8,1713.9 2247.9,1723.7 2248.4,1733.5 2248.6,1743.3 2248.4,1753.1 2248.3,1762.9 2248.8,1772.7 2248.2,1782.5 2247.8,1792.3 2248.2,1802.1 2247.7,1811.9 2248.1,1821.7 2247.5,1831.5 2247.4,1841.3 2246.9,1851.1 2247.4,1860.9 2246.7,1870.7 2247.2,1880.5 2253.5,1880.5 2253.6,1870.7 2253.1,1860.9 2253.8,1851.1 2253.8,1841.3 2254.2,1831.5 2254.0,1821.7 2254.9,1811.9 2254.8,1802.1 2255.4,1792.3 2255.6,1782.5 2255.0,1772.7 2255.3,1762.9 2255.9,1753.1 2255.7,1743.3 2255.7,1733.5 2256.0,1723.7 2255.8,1713.9 2256.2,1704.1 2255.6,1694.3 2256.0,1684.5 2255.9,1674.7 2256.1,1664.9 2256.0,1655.1 2256.0,1645.3 2255.9,1635.5 2256.4,1625.7 2256.4,1615.9 2256.3,1606.1 2256.2,1596.3 2256.3,1586.5 2257.0,1576.7 2256.6,1566.9 2256.9,1557.1 2256.3,1547.3 2256.7,1537.5 2256.5,1527.7 2256.6,1517.9 2256.4,1508.1 2256.6,1498.3 2256.4,1488.5 2257.0,1478.7 2256.5,1468.9 2256.4,1459.1 2256.6,1449.3 2257.1,1439.5 2256.3,1429.7 2256.7,1419.9 2256.2,1410.1 2256.6,1400.3 2257.0,1390.5 2256.5,1380.7 2255.9,1370.9 2256.3,1361.1 2255.9,1351.3 2256.4,1341.5 2255.6,1331.7 2255.2,1321.9 2255.0,1312.1 2255.7,1302.3 2255.1,1292.5 2255.0,1282.7 2255.4,1272.9 2254.9,1263.1 2254.6,1253.3 2254.1,1243.5 2254.2,1233.7 2254.1,1223.9 2254.1,1214.1 2253.9,1204.3 2254.5,1194.5 2254.4,1184.7 2253.9,1174.9 2254.4,1165.1 2254.4,1155.3 2254.0,1145.5 2254.1,1135.7 2253.7,1125.9 2254.2,1116.1 2253.9,1106.3 2254.2,1096.5 2253.9,1086.7 2254.3,1076.9 2254.0,1067.1 2254.1,1057.3 2254.0,1047.5 2253.8,1037.7 2253.9,1027.9 2253.9,1018.1 2253.7,1008.3 2253.5,998.5 2253.6,988.7 2253.9,978.9 2253.6,969.1 2253.4,959.3 2253.6,949.5 2253.6,939.7 2253.5,929.9 2253.6,920.1 2253.6,910.3 2253.0,900.5 2253.0,890.7 2253.3,880.9 2253.6,871.1 2252.8,861.3 2252.9,851.5 2253.3,841.7 2253.0,831.9 2253.4,822.1 2253.0,812.3 2253.3,802.5 2252.9,792.7 2253.2,782.9 2253.3,773.1 2252.5,763.3 2252.8,753.5 2253.2,743.7 2252.7,733.9 2253.1,724.1 2252.5,714.3 2252.7,704.5 2252.2,694.7 2253.2,684.9 2252.3,675.1 2252.3,665.3 2252.5,655.5 2253.1,645.7 2253.0,635.9 2252.4,626.1 2253.0,616.3 2253.2,606.5 2253.7,596.7 2254.4,586.9 2254.7,577.1 2255.6,567.3 2254.2,557.5 2255.2,547.7 2255.7,537.9 2257.2,528.1 2257.0,518.3 2256.3,508.5 2254.5,498.7 2253.5,488.9 2253.2,479.1 2252.5,469.3 2251.6,459.5 2253.7,449.7 2257.3,439.9 2261.3,430.1 2259.1,420.3 2257.5,410.5 2257.2,400.7 2256.1,390.9 2254.6,381.1 2254.5,371.3 2255.1,361.5 2254.9,351.7 2254.7,341.9 2253.9,332.1 2256.8,322.3 2259.6,312.5 2257.7,302.7 2254.2,292.9 2255.0,283.1 2255.0,273.3 2255.0,263.5 2255.6,253.7 2257.1,243.9 2259.1,234.1 2259.1,224.3 2258.9,214.5" fill="#d44d3e"/>
<polyline points="2249.4,214.5 2249.4,224.3 2249.4,234.1 2249.4,243.9 2249.4,253.7 2249.4,263.5 2249.4,273.3 2249.4,283.1 2249.4,292.9 2249.4,302.7 2249.4,312.5 2249.4,322.3 2249.4,332.1 2249.4,341.9 2249.4,351.7 2249.4,361.5 2249.4,371.3 2249.4,381.1 2249.4,390.9 2249.4,400.7 2249.4,410.5 2249.4,420.3 2249.4,430.1 2249.4,439.9 2249.4,449.7 2248.6,459.5 2249.4,469.3 2249.4,479.1 2249.4,488.9 2249.4,498.7 2249.4,508.5 2249.4,518.3 2249.4,528.1 2249.4,537.9 2249.4,547.7 2249.4,557.5 2249.4,567.3 2249.4,577.1 2249.4,586.9 2249.4,596.7 2249.4,606.5 2248.7,616.3 2248.4,626.1 2249.0,635.9 2248.8,645.7 2248.6,655.5 2248.4,665.3 2248.2,675.1 2249.0,684.9 2248.2,694.7 2248.9,704.5 2248.5,714.3 2248.9,724.1 2248.7,733.9 2248.8,743.7 2248.6,753.5 2248.8,763.3 2249.2,773.1 2249.1,782.9 2248.7,792.7 2249.0,802.5 2248.9,812.3 2249.5,822.1 2249.3,831.9 2249.3,841.7 2249.1,851.5 2249.0,861.3 2249.4,871.1 2249.6,880.9 2249.2,890.7 2249.0,900.5 2249.7,910.3 2249.5,920.1 2249.7,929.9 2249.7,939.7 2249.6,949.5 2249.5,959.3 2249.9,969.1 2249.8,978.9 2249.8,988.7 2249.5,998.5 2249.8,1008.3 2250.0,1018.1 2250.1,1027.9 2249.9,1037.7 2250.3,1047.5 2250.1,1057.3 2250.4,1067.1 2250.6,1076.9 2250.2,1086.7 2250.3,1096.5 2250.5,1106.3 2250.6,1116.1 2250.4,1125.9 2250.6,1135.7 2250.6,1145.5 2250.8,1155.3 2250.8,1165.1 2250.3,1174.9 2250.8,1184.7 2250.7,1194.5 2250.7,1204.3 2250.7,1214.1 2250.5,1223.9 2250.7,1233.7 2250.6,1243.5 2251.1,1253.3 2251.3,1263.1 2251.4,1272.9 2251.1,1282.7 2251.4,1292.5 2251.6,1302.3 2251.4,1312.1 2251.7,1321.9 2251.9,1331.7 2252.3,1341.5 2252.2,1351.3 2252.4,1361.1 2252.1,1370.9 2252.5,1380.7 2253.0,1390.5 2252.6,1400.3 2252.5,1410.1 2252.4,1419.9 2252.5,1429.7 2252.8,1439.5 2252.5,1449.3 2252.3,1459.1 2252.7,1468.9 2253.0,1478.7 2252.5,1488.5 2252.8,1498.3 2252.4,1508.1 2252.8,1517.9 2252.4,1527.7 2252.4,1537.5 2252.4,1547.3 2252.8,1557.1 2252.3,1566.9 2252.6,1576.7 2252.5,1586.5 2252.2,1596.3 2252.6,1606.1 2252.5,1615.9 2252.5,1625.7 2252.3,1635.5 2252.4,1645.3 2252.2,1655.1 2252.2,1664.9 2252.1,1674.7 2252.4,1684.5 2251.8,1694.3 2252.3,1704.1 2252.3,1713.9 2251.9,1723.7 2252.0,1733.5 2252.2,1743.3 2252.1,1753.1 2251.8,1762.9 2251.9,1772.7 2251.9,1782.5 2251.6,1792.3 2251.5,1802.1 2251.3,1811.9 2251.1,1821.7 2250.9,1831.5 2250.6,1841.3 2250.4,1851.1 2250.4,1860.9 2250.1,1870.7 2250.3,1880.5" fill="none" stroke="#ed5a49" stroke-width="10.5" stroke-linejoin="round"/>
</g>
<rect x="2138.5" y="216.5" width="1222.0" height="1652.0" fill="none" stroke="#fff" stroke-width="5.2"/>
<line x1="2126.00" y1="1789.83" x2="2138.5" y2="1789.83" stroke="#fff" stroke-width="2.67"/>
<line x1="2126.00" y1="1593.17" x2="2138.5" y2="1593.17" stroke="#fff" stroke-width="2.67"/>
<line x1="2126.00" y1="1396.50" x2="2138.5" y2="1396.50" stroke="#fff" stroke-width="2.67"/>
<line x1="2126.00" y1="1199.83" x2="2138.5" y2="1199.83" stroke="#fff" stroke-width="2.67"/>
<line x1="2126.00" y1="1003.17" x2="2138.5" y2="1003.17" stroke="#fff" stroke-width="2.67"/>
<line x1="2126.00" y1="806.50" x2="2138.5" y2="806.50" stroke="#fff" stroke-width="2.67"/>
<line x1="2126.00" y1="609.83" x2="2138.5" y2="609.83" stroke="#fff" stroke-width="2.67"/>
<line x1="2126.00" y1="413.17" x2="2138.5" y2="413.17" stroke="#fff" stroke-width="2.67"/>
<line x1="2126.00" y1="216.50" x2="2138.5" y2="216.50" stroke="#fff" stroke-width="2.67"/>
<line x1="2249.59" y1="1868.5" x2="2249.59" y2="1880.40" stroke="#fff" stroke-width="2.67"/>
<line x1="2471.77" y1="1868.5" x2="2471.77" y2="1880.40" stroke="#fff" stroke-width="2.67"/>
<line x1="2693.95" y1="1868.5" x2="2693.95" y2="1880.40" stroke="#fff" stroke-width="2.67"/>
<line x1="2916.14" y1="1868.5" x2="2916.14" y2="1880.40" stroke="#fff" stroke-width="2.67"/>
<line x1="3138.32" y1="1868.5" x2="3138.32" y2="1880.40" stroke="#fff" stroke-width="2.67"/>
<line x1="3360.50" y1="1868.5" x2="3360.50" y2="1880.40" stroke="#fff" stroke-width="2.67"/>
<text x="597.46" y="1806.73" font-family="'Liberation Sans', sans-serif" font-size="47.50" fill="#fff" stroke="#fff" stroke-width="0.69" stroke-linejoin="round" textLength="51.65" lengthAdjust="spacingAndGlyphs">10</text>
<text x="598.85" y="1610.07" font-family="'Liberation Sans', sans-serif" font-size="47.50" fill="#fff" stroke="#fff" stroke-width="0.69" stroke-linejoin="round" textLength="50.35" lengthAdjust="spacingAndGlyphs">15</text>
<text x="595.16" y="1413.40" font-family="'Liberation Sans', sans-serif" font-size="47.50" fill="#fff" stroke="#fff" stroke-width="0.69" stroke-linejoin="round" textLength="54.04" lengthAdjust="spacingAndGlyphs">20</text>
<text x="595.04" y="1216.73" font-family="'Liberation Sans', sans-serif" font-size="47.50" fill="#fff" stroke="#fff" stroke-width="0.69" stroke-linejoin="round" textLength="54.31" lengthAdjust="spacingAndGlyphs">25</text>
<text x="595.05" y="1020.07" font-family="'Liberation Sans', sans-serif" font-size="47.50" fill="#fff" stroke="#fff" stroke-width="0.69" stroke-linejoin="round" textLength="54.16" lengthAdjust="spacingAndGlyphs">30</text>
<text x="595.66" y="823.40" font-family="'Liberation Sans', sans-serif" font-size="47.50" fill="#fff" stroke="#fff" stroke-width="0.69" stroke-linejoin="round" textLength="53.66" lengthAdjust="spacingAndGlyphs">35</text>
<text x="592.12" y="626.73" font-family="'Liberation Sans', sans-serif" font-size="47.50" fill="#fff" stroke="#fff" stroke-width="0.69" stroke-linejoin="round" textLength="57.19" lengthAdjust="spacingAndGlyphs">40</text>
<text x="594.36" y="430.07" font-family="'Liberation Sans', sans-serif" font-size="47.50" fill="#fff" stroke="#fff" stroke-width="0.69" stroke-linejoin="round" textLength="55.01" lengthAdjust="spacingAndGlyphs">45</text>
<text x="594.53" y="233.40" font-family="'Liberation Sans', sans-serif" font-size="47.50" fill="#fff" stroke="#fff" stroke-width="0.69" stroke-linejoin="round" textLength="54.69" lengthAdjust="spacingAndGlyphs">50</text>
<text x="769.13" y="1926.70" font-family="'Liberation Sans', sans-serif" font-size="47.50" fill="#fff" stroke="#fff" stroke-width="0.69" stroke-linejoin="round" textLength="27.92" lengthAdjust="spacingAndGlyphs">0</text>
<text x="979.52" y="1926.70" font-family="'Liberation Sans', sans-serif" font-size="47.50" fill="#fff" stroke="#fff" stroke-width="0.69" stroke-linejoin="round" textLength="51.00" lengthAdjust="spacingAndGlyphs">20</text>
<text x="1199.95" y="1926.70" font-family="'Liberation Sans', sans-serif" font-size="47.50" fill="#fff" stroke="#fff" stroke-width="0.69" stroke-linejoin="round" textLength="55.81" lengthAdjust="spacingAndGlyphs">40</text>
<text x="1422.70" y="1926.70" font-family="'Liberation Sans', sans-serif" font-size="47.50" fill="#fff" stroke="#fff" stroke-width="0.69" stroke-linejoin="round" textLength="53.31" lengthAdjust="spacingAndGlyphs">60</text>
<text x="1645.58" y="1926.70" font-family="'Liberation Sans', sans-serif" font-size="47.50" fill="#fff" stroke="#fff" stroke-width="0.69" stroke-linejoin="round" textLength="52.28" lengthAdjust="spacingAndGlyphs">80</text>
<text x="1854.47" y="1926.70" font-family="'Liberation Sans', sans-serif" font-size="47.50" fill="#fff" stroke="#fff" stroke-width="0.69" stroke-linejoin="round" textLength="77.34" lengthAdjust="spacingAndGlyphs">100</text>
<text x="2063.46" y="1806.73" font-family="'Liberation Sans', sans-serif" font-size="47.50" fill="#fff" stroke="#fff" stroke-width="0.69" stroke-linejoin="round" textLength="51.65" lengthAdjust="spacingAndGlyphs">10</text>
<text x="2064.85" y="1610.07" font-family="'Liberation Sans', sans-serif" font-size="47.50" fill="#fff" stroke="#fff" stroke-width="0.69" stroke-linejoin="round" textLength="50.35" lengthAdjust="spacingAndGlyphs">15</text>
<text x="2061.16" y="1413.40" font-family="'Liberation Sans', sans-serif" font-size="47.50" fill="#fff" stroke="#fff" stroke-width="0.69" stroke-linejoin="round" textLength="54.04" lengthAdjust="spacingAndGlyphs">20</text>
<text x="2061.04" y="1216.73" font-family="'Liberation Sans', sans-serif" font-size="47.50" fill="#fff" stroke="#fff" stroke-width="0.69" stroke-linejoin="round" textLength="54.31" lengthAdjust="spacingAndGlyphs">25</text>
<text x="2061.05" y="1020.07" font-family="'Liberation Sans', sans-serif" font-size="47.50" fill="#fff" stroke="#fff" stroke-width="0.69" stroke-linejoin="round" textLength="54.16" lengthAdjust="spacingAndGlyphs">30</text>
<text x="2061.66" y="823.40" font-family="'Liberation Sans', sans-serif" font-size="47.50" fill="#fff" stroke="#fff" stroke-width="0.69" stroke-linejoin="round" textLength="53.66" lengthAdjust="spacingAndGlyphs">35</text>
<text x="2058.12" y="626.73" font-family="'Liberation Sans', sans-serif" font-size="47.50" fill="#fff" stroke="#fff" stroke-width="0.69" stroke-linejoin="round" textLength="57.19" lengthAdjust="spacingAndGlyphs">40</text>
<text x="2060.36" y="430.07" font-family="'Liberation Sans', sans-serif" font-size="47.50" fill="#fff" stroke="#fff" stroke-width="0.69" stroke-linejoin="round" textLength="55.01" lengthAdjust="spacingAndGlyphs">45</text>
<text x="2060.53" y="233.40" font-family="'Liberation Sans', sans-serif" font-size="47.50" fill="#fff" stroke="#fff" stroke-width="0.69" stroke-linejoin="round" textLength="54.69" lengthAdjust="spacingAndGlyphs">50</text>
<text x="2235.13" y="1926.70" font-family="'Liberation Sans', sans-serif" font-size="47.50" fill="#fff" stroke="#fff" stroke-width="0.69" stroke-linejoin="round" textLength="27.92" lengthAdjust="spacingAndGlyphs">0</text>
<text x="2445.52" y="1926.70" font-family="'Liberation Sans', sans-serif" font-size="47.50" fill="#fff" stroke="#fff" stroke-width="0.69" stroke-linejoin="round" textLength="51.00" lengthAdjust="spacingAndGlyphs">20</text>
<text x="2665.95" y="1926.70" font-family="'Liberation Sans', sans-serif" font-size="47.50" fill="#fff" stroke="#fff" stroke-width="0.69" stroke-linejoin="round" textLength="55.81" lengthAdjust="spacingAndGlyphs">40</text>
<text x="2888.70" y="1926.70" font-family="'Liberation Sans', sans-serif" font-size="47.50" fill="#fff" stroke="#fff" stroke-width="0.69" stroke-linejoin="round" textLength="53.31" lengthAdjust="spacingAndGlyphs">60</text>
<text x="3111.58" y="1926.70" font-family="'Liberation Sans', sans-serif" font-size="47.50" fill="#fff" stroke="#fff" stroke-width="0.69" stroke-linejoin="round" textLength="52.28" lengthAdjust="spacingAndGlyphs">80</text>
<text x="3320.47" y="1926.70" font-family="'Liberation Sans', sans-serif" font-size="47.50" fill="#fff" stroke="#fff" stroke-width="0.69" stroke-linejoin="round" textLength="77.34" lengthAdjust="spacingAndGlyphs">100</text>
<text x="732.67" y="2001.80" font-family="'Liberation Sans', sans-serif" font-size="61.00" fill="#fff" stroke="#fff" stroke-width="0.88" stroke-linejoin="round" textLength="217.11" lengthAdjust="spacingAndGlyphs">Aerosol</text>
<text x="949.72" y="2001.80" font-family="'Liberation Sans', sans-serif" font-size="61.00" fill="#fff" stroke="#fff" stroke-width="0.88" stroke-linejoin="round" textLength="23.87" lengthAdjust="spacingAndGlyphs">-</text>
<text x="973.47" y="2001.80" font-family="'Liberation Sans', sans-serif" font-size="61.00" fill="#fff" stroke="#fff" stroke-width="0.88" stroke-linejoin="round" textLength="71.99" lengthAdjust="spacingAndGlyphs">To</text>
<text x="1045.22" y="2001.80" font-family="'Liberation Sans', sans-serif" font-size="61.00" fill="#fff" stroke="#fff" stroke-width="0.88" stroke-linejoin="round" textLength="23.87" lengthAdjust="spacingAndGlyphs">-</text>
<text x="1068.62" y="2001.80" font-family="'Liberation Sans', sans-serif" font-size="61.00" fill="#fff" stroke="#fff" stroke-width="0.88" stroke-linejoin="round" textLength="284.47" lengthAdjust="spacingAndGlyphs">Molecular</text>
<text x="1370.31" y="2001.80" font-family="'Liberation Sans', sans-serif" font-size="61.00" fill="#fff" stroke="#fff" stroke-width="0.88" stroke-linejoin="round" textLength="290.03" lengthAdjust="spacingAndGlyphs">Extinction</text>
<text x="1678.91" y="2001.80" font-family="'Liberation Sans', sans-serif" font-size="61.00" fill="#fff" stroke="#fff" stroke-width="0.88" stroke-linejoin="round" textLength="156.20" lengthAdjust="spacingAndGlyphs">Ratio</text>
<text x="-1233.43" y="558.40" font-family="'Liberation Sans', sans-serif" font-size="61.00" fill="#fff" stroke="#fff" stroke-width="0.88" stroke-linejoin="round" textLength="226.55" lengthAdjust="spacingAndGlyphs" transform="rotate(-90)">Altitude</text>
<text x="-989.33" y="558.40" font-family="'Liberation Sans', sans-serif" font-size="61.00" fill="#fff" stroke="#fff" stroke-width="0.88" stroke-linejoin="round" textLength="138.67" lengthAdjust="spacingAndGlyphs" transform="rotate(-90)">[km]</text>
<text x="2198.67" y="2001.80" font-family="'Liberation Sans', sans-serif" font-size="61.00" fill="#fff" stroke="#fff" stroke-width="0.88" stroke-linejoin="round" textLength="217.11" lengthAdjust="spacingAndGlyphs">Aerosol</text>
<text x="2415.72" y="2001.80" font-family="'Liberation Sans', sans-serif" font-size="61.00" fill="#fff" stroke="#fff" stroke-width="0.88" stroke-linejoin="round" textLength="23.87" lengthAdjust="spacingAndGlyphs">-</text>
<text x="2439.47" y="2001.80" font-family="'Liberation Sans', sans-serif" font-size="61.00" fill="#fff" stroke="#fff" stroke-width="0.88" stroke-linejoin="round" textLength="71.99" lengthAdjust="spacingAndGlyphs">To</text>
<text x="2511.22" y="2001.80" font-family="'Liberation Sans', sans-serif" font-size="61.00" fill="#fff" stroke="#fff" stroke-width="0.88" stroke-linejoin="round" textLength="23.87" lengthAdjust="spacingAndGlyphs">-</text>
<text x="2534.62" y="2001.80" font-family="'Liberation Sans', sans-serif" font-size="61.00" fill="#fff" stroke="#fff" stroke-width="0.88" stroke-linejoin="round" textLength="284.47" lengthAdjust="spacingAndGlyphs">Molecular</text>
<text x="2836.31" y="2001.80" font-family="'Liberation Sans', sans-serif" font-size="61.00" fill="#fff" stroke="#fff" stroke-width="0.88" stroke-linejoin="round" textLength="290.03" lengthAdjust="spacingAndGlyphs">Extinction</text>
<text x="3144.91" y="2001.80" font-family="'Liberation Sans', sans-serif" font-size="61.00" fill="#fff" stroke="#fff" stroke-width="0.88" stroke-linejoin="round" textLength="156.20" lengthAdjust="spacingAndGlyphs">Ratio</text>
<text x="-1233.43" y="2024.40" font-family="'Liberation Sans', sans-serif" font-size="61.00" fill="#fff" stroke="#fff" stroke-width="0.88" stroke-linejoin="round" textLength="226.55" lengthAdjust="spacingAndGlyphs" transform="rotate(-90)">Altitude</text>
<text x="-989.33" y="2024.40" font-family="'Liberation Sans', sans-serif" font-size="61.00" fill="#fff" stroke="#fff" stroke-width="0.88" stroke-linejoin="round" textLength="138.67" lengthAdjust="spacingAndGlyphs" transform="rotate(-90)">[km]</text>
<text x="793.87" y="101.70" font-family="'Liberation Sans', sans-serif" font-size="81.40" font-weight="bold" fill="#fff" stroke="#fff" stroke-width="1.2" stroke-linejoin="round" textLength="219.76" lengthAdjust="spacingAndGlyphs">SAGE</text>
<text x="1263.48" y="101.70" font-family="'Liberation Sans', sans-serif" font-size="81.40" font-weight="bold" fill="#fff" stroke="#fff" stroke-width="1.2" stroke-linejoin="round" textLength="102.62" lengthAdjust="spacingAndGlyphs">SS</text>
<text x="1392.36" y="101.70" font-family="'Liberation Sans', sans-serif" font-size="81.40" font-weight="bold" fill="#fff" stroke="#fff" stroke-width="1.2" stroke-linejoin="round" textLength="280.12" lengthAdjust="spacingAndGlyphs">449nm</text>
<text x="1694.74" y="101.70" font-family="'Liberation Sans', sans-serif" font-size="81.40" font-weight="bold" fill="#fff" stroke="#fff" stroke-width="1.2" stroke-linejoin="round" textLength="308.53" lengthAdjust="spacingAndGlyphs">Aerosol</text>
<text x="2001.90" y="101.70" font-family="'Liberation Sans', sans-serif" font-size="81.40" font-weight="bold" fill="#fff" stroke="#fff" stroke-width="1.2" stroke-linejoin="round" textLength="35.81" lengthAdjust="spacingAndGlyphs">-</text>
<text x="2038.53" y="101.70" font-family="'Liberation Sans', sans-serif" font-size="81.40" font-weight="bold" fill="#fff" stroke="#fff" stroke-width="1.2" stroke-linejoin="round" textLength="82.80" lengthAdjust="spacingAndGlyphs">to</text>
<text x="2121.01" y="101.70" font-family="'Liberation Sans', sans-serif" font-size="81.40" font-weight="bold" fill="#fff" stroke="#fff" stroke-width="1.2" stroke-linejoin="round" textLength="36.59" lengthAdjust="spacingAndGlyphs">-</text>
<text x="2157.64" y="101.70" font-family="'Liberation Sans', sans-serif" font-size="81.40" font-weight="bold" fill="#fff" stroke="#fff" stroke-width="1.2" stroke-linejoin="round" textLength="401.66" lengthAdjust="spacingAndGlyphs">Molecular</text>
<text x="2585.12" y="101.70" font-family="'Liberation Sans', sans-serif" font-size="81.40" font-weight="bold" fill="#fff" stroke="#fff" stroke-width="1.2" stroke-linejoin="round" textLength="410.14" lengthAdjust="spacingAndGlyphs">Extinction</text>
<text x="3021.16" y="101.70" font-family="'Liberation Sans', sans-serif" font-size="81.40" font-weight="bold" fill="#fff" stroke="#fff" stroke-width="1.2" stroke-linejoin="round" textLength="218.25" lengthAdjust="spacingAndGlyphs">Ratio</text>
<text x="1039.60" y="101.70" font-family="'Liberation Mono', monospace" font-size="83.50" font-weight="bold" fill="#fff" stroke="#fff" stroke-width="0.8" textLength="133.95" lengthAdjust="spacingAndGlyphs">III</text>
<text x="1220.30" y="101.70" font-family="'Liberation Mono', monospace" font-size="83.50" font-weight="bold" fill="#fff" stroke="#fff" stroke-width="0.8" textLength="44.65" lengthAdjust="spacingAndGlyphs">I</text>
<text transform="translate(1173.56,110.23) skewX(-19.35)" font-family="'Liberation Sans', sans-serif" font-size="88.50" font-weight="bold" fill="#fff" stroke="#fff" stroke-width="1.0">/</text>
<text x="1643.81" y="189.70" font-family="'Liberation Sans', sans-serif" font-size="81.40" font-weight="bold" fill="#fff" stroke="#fff" stroke-width="1.2" stroke-linejoin="round" textLength="89.88" lengthAdjust="spacingAndGlyphs">18</text>
<text x="1762.73" y="189.70" font-family="'Liberation Sans', sans-serif" font-size="81.40" font-weight="bold" fill="#fff" stroke="#fff" stroke-width="1.2" stroke-linejoin="round" textLength="409.75" lengthAdjust="spacingAndGlyphs">December</text>
<text x="2197.75" y="189.70" font-family="'Liberation Sans', sans-serif" font-size="81.40" font-weight="bold" fill="#fff" stroke="#fff" stroke-width="1.2" stroke-linejoin="round" textLength="189.22" lengthAdjust="spacingAndGlyphs">2025</text>
<text x="1157.83" y="195.80" font-family="'Liberation Sans', sans-serif" font-size="67.80" font-weight="bold" fill="#fff" stroke="#fff" stroke-width="1.0" stroke-linejoin="round" textLength="251.21" lengthAdjust="spacingAndGlyphs">Sunrise</text>
<text x="2635.96" y="195.80" font-family="'Liberation Sans', sans-serif" font-size="67.80" font-weight="bold" fill="#fff" stroke="#fff" stroke-width="1.0" stroke-linejoin="round" textLength="224.97" lengthAdjust="spacingAndGlyphs">Sunset</text>
<rect x="18.5" y="906.6" width="419.5" height="601.9" rx="6.5" ry="6.5" fill="#000" stroke="#aaaaaa" stroke-width="3.33"/>
<line x1="29.2" y1="937.90" x2="119.2" y2="937.90" stroke="#043e64" stroke-width="10"/>
<text x="146.12" y="950.90" font-family="'Liberation Sans', sans-serif" font-size="40.70" fill="#fff" stroke="#fff" stroke-width="0.59" stroke-linejoin="round" textLength="273.40" lengthAdjust="spacingAndGlyphs">2025121802SR</text>
<line x1="29.2" y1="996.86" x2="119.2" y2="996.86" stroke="#044770" stroke-width="10"/>
<text x="146.12" y="1009.86" font-family="'Liberation Sans', sans-serif" font-size="40.70" fill="#fff" stroke="#fff" stroke-width="0.59" stroke-linejoin="round" textLength="273.91" lengthAdjust="spacingAndGlyphs">2025121805SR</text>
<line x1="29.2" y1="1055.82" x2="119.2" y2="1055.82" stroke="#044f7c" stroke-width="10"/>
<text x="146.11" y="1068.82" font-family="'Liberation Sans', sans-serif" font-size="40.70" fill="#fff" stroke="#fff" stroke-width="0.59" stroke-linejoin="round" textLength="274.92" lengthAdjust="spacingAndGlyphs">2025121808SR</text>
<line x1="29.2" y1="1114.78" x2="119.2" y2="1114.78" stroke="#045887" stroke-width="10"/>
<text x="146.15" y="1127.78" font-family="'Liberation Sans', sans-serif" font-size="40.70" fill="#fff" stroke="#fff" stroke-width="0.59" stroke-linejoin="round" textLength="266.95" lengthAdjust="spacingAndGlyphs">2025121811SR</text>
<line x1="29.2" y1="1173.74" x2="119.2" y2="1173.74" stroke="#046193" stroke-width="10"/>
<text x="146.13" y="1186.74" font-family="'Liberation Sans', sans-serif" font-size="40.70" fill="#fff" stroke="#fff" stroke-width="0.59" stroke-linejoin="round" textLength="271.68" lengthAdjust="spacingAndGlyphs">2025121814SR</text>
<line x1="29.2" y1="1232.70" x2="119.2" y2="1232.70" stroke="#05699f" stroke-width="10"/>
<text x="146.16" y="1245.70" font-family="'Liberation Sans', sans-serif" font-size="40.70" fill="#fff" stroke="#fff" stroke-width="0.59" stroke-linejoin="round" textLength="268.64" lengthAdjust="spacingAndGlyphs">2025121817SR</text>
<line x1="29.2" y1="1291.66" x2="119.2" y2="1291.66" stroke="#0572ab" stroke-width="10"/>
<text x="146.12" y="1304.66" font-family="'Liberation Sans', sans-serif" font-size="40.70" fill="#fff" stroke="#fff" stroke-width="0.59" stroke-linejoin="round" textLength="273.71" lengthAdjust="spacingAndGlyphs">2025121820SR</text>
<line x1="29.2" y1="1350.62" x2="119.2" y2="1350.62" stroke="#057bb6" stroke-width="10"/>
<text x="146.14" y="1363.62" font-family="'Liberation Sans', sans-serif" font-size="40.70" fill="#fff" stroke="#fff" stroke-width="0.59" stroke-linejoin="round" textLength="271.07" lengthAdjust="spacingAndGlyphs">2025121823SR</text>
<line x1="29.2" y1="1409.58" x2="119.2" y2="1409.58" stroke="#0583c2" stroke-width="10"/>
<text x="146.13" y="1422.58" font-family="'Liberation Sans', sans-serif" font-size="40.70" fill="#fff" stroke="#fff" stroke-width="0.59" stroke-linejoin="round" textLength="271.98" lengthAdjust="spacingAndGlyphs">2025121826SR</text>
<line x1="29.2" y1="1468.54" x2="119.2" y2="1468.54" stroke="#058cce" stroke-width="10"/>
<text x="146.13" y="1481.54" font-family="'Liberation Sans', sans-serif" font-size="40.70" fill="#fff" stroke="#fff" stroke-width="0.59" stroke-linejoin="round" textLength="271.98" lengthAdjust="spacingAndGlyphs">2025121841SR</text>
<rect x="3380.5" y="877.6" width="419.0" height="660.9" rx="6.5" ry="6.5" fill="#000" stroke="#aaaaaa" stroke-width="3.33"/>
<line x1="3391.0" y1="908.60" x2="3481.0" y2="908.60" stroke="#440102" stroke-width="10"/>
<text x="3507.94" y="921.60" font-family="'Liberation Sans', sans-serif" font-size="40.70" fill="#fff" stroke="#fff" stroke-width="0.59" stroke-linejoin="round" textLength="268.85" lengthAdjust="spacingAndGlyphs">2025121801SS</text>
<line x1="3391.0" y1="967.65" x2="3481.0" y2="967.65" stroke="#550a09" stroke-width="10"/>
<text x="3507.90" y="980.65" font-family="'Liberation Sans', sans-serif" font-size="40.70" fill="#fff" stroke="#fff" stroke-width="0.59" stroke-linejoin="round" textLength="273.92" lengthAdjust="spacingAndGlyphs">2025121804SS</text>
<line x1="3391.0" y1="1026.70" x2="3481.0" y2="1026.70" stroke="#661310" stroke-width="10"/>
<text x="3507.93" y="1039.70" font-family="'Liberation Sans', sans-serif" font-size="40.70" fill="#fff" stroke="#fff" stroke-width="0.59" stroke-linejoin="round" textLength="270.78" lengthAdjust="spacingAndGlyphs">2025121807SS</text>
<line x1="3391.0" y1="1085.75" x2="3481.0" y2="1085.75" stroke="#771c17" stroke-width="10"/>
<text x="3507.94" y="1098.75" font-family="'Liberation Sans', sans-serif" font-size="40.70" fill="#fff" stroke="#fff" stroke-width="0.59" stroke-linejoin="round" textLength="268.85" lengthAdjust="spacingAndGlyphs">2025121810SS</text>
<line x1="3391.0" y1="1144.80" x2="3481.0" y2="1144.80" stroke="#88251e" stroke-width="10"/>
<text x="3507.96" y="1157.80" font-family="'Liberation Sans', sans-serif" font-size="40.70" fill="#fff" stroke="#fff" stroke-width="0.59" stroke-linejoin="round" textLength="266.01" lengthAdjust="spacingAndGlyphs">2025121813SS</text>
<line x1="3391.0" y1="1203.85" x2="3481.0" y2="1203.85" stroke="#982e26" stroke-width="10"/>
<text x="3507.95" y="1216.85" font-family="'Liberation Sans', sans-serif" font-size="40.70" fill="#fff" stroke="#fff" stroke-width="0.59" stroke-linejoin="round" textLength="267.23" lengthAdjust="spacingAndGlyphs">2025121816SS</text>
<line x1="3391.0" y1="1262.90" x2="3481.0" y2="1262.90" stroke="#a9362d" stroke-width="10"/>
<text x="3507.95" y="1275.90" font-family="'Liberation Sans', sans-serif" font-size="40.70" fill="#fff" stroke="#fff" stroke-width="0.59" stroke-linejoin="round" textLength="266.92" lengthAdjust="spacingAndGlyphs">2025121819SS</text>
<line x1="3391.0" y1="1321.95" x2="3481.0" y2="1321.95" stroke="#ba3f34" stroke-width="10"/>
<text x="3507.94" y="1334.95" font-family="'Liberation Sans', sans-serif" font-size="40.70" fill="#fff" stroke="#fff" stroke-width="0.59" stroke-linejoin="round" textLength="268.44" lengthAdjust="spacingAndGlyphs">2025121822SS</text>
<line x1="3391.0" y1="1381.00" x2="3481.0" y2="1381.00" stroke="#cb483b" stroke-width="10"/>
<text x="3507.94" y="1394.00" font-family="'Liberation Sans', sans-serif" font-size="40.70" fill="#fff" stroke="#fff" stroke-width="0.59" stroke-linejoin="round" textLength="269.36" lengthAdjust="spacingAndGlyphs">2025121825SS</text>
<line x1="3391.0" y1="1440.05" x2="3481.0" y2="1440.05" stroke="#dc5142" stroke-width="10"/>
<text x="3507.91" y="1453.05" font-family="'Liberation Sans', sans-serif" font-size="40.70" fill="#fff" stroke="#fff" stroke-width="0.59" stroke-linejoin="round" textLength="273.31" lengthAdjust="spacingAndGlyphs">2025121840SS</text>
<line x1="3391.0" y1="1499.10" x2="3481.0" y2="1499.10" stroke="#ed5a49" stroke-width="10"/>
<text x="3507.93" y="1512.10" font-family="'Liberation Sans', sans-serif" font-size="40.70" fill="#fff" stroke="#fff" stroke-width="0.59" stroke-linejoin="round" textLength="270.37" lengthAdjust="spacingAndGlyphs">2025121843SS</text>
<line x1="40" y1="1979.7" x2="120" y2="1979.7" stroke="#fff" stroke-width="10" stroke-dasharray="37 16"/>
<line x1="40" y1="2039.8" x2="120" y2="2039.8" stroke="#fff" stroke-width="10" stroke-dasharray="10 16.5"/>
<rect x="40.5" y="2085.5" width="80" height="28" fill="#686d71" stroke="#adb5bd" stroke-opacity="0.75" stroke-width="3.33"/>
<text x="151.44" y="1993.40" font-family="'Liberation Sans', sans-serif" font-size="40.70" fill="#fff" stroke="#fff" stroke-width="0.59" stroke-linejoin="round" textLength="350.19" lengthAdjust="spacingAndGlyphs">Mean Tropopause</text>
<text x="151.41" y="2053.50" font-family="'Liberation Sans', sans-serif" font-size="40.70" fill="#fff" stroke="#fff" stroke-width="0.59" stroke-linejoin="round" textLength="386.33" lengthAdjust="spacingAndGlyphs">Median Tropopause</text>
<text x="152.73" y="2113.40" font-family="'Liberation Sans', sans-serif" font-size="40.70" fill="#fff" stroke="#fff" stroke-width="0.59" stroke-linejoin="round" textLength="368.19" lengthAdjust="spacingAndGlyphs">Tropopause Range</text>
<text x="3267.58" y="2039.00" font-family="'Liberation Sans', sans-serif" font-size="30.50" fill="#808080" stroke="#808080" stroke-width="0.44" stroke-linejoin="round" textLength="87.17" lengthAdjust="spacingAndGlyphs">SAGE</text>
<text x="3450.12" y="2039.00" font-family="'Liberation Sans', sans-serif" font-size="30.50" fill="#808080" stroke="#808080" stroke-width="0.44" stroke-linejoin="round" textLength="37.46" lengthAdjust="spacingAndGlyphs">SS</text>
<text x="3499.07" y="2039.00" font-family="'Liberation Sans', sans-serif" font-size="30.50" fill="#808080" stroke="#808080" stroke-width="0.44" stroke-linejoin="round" textLength="121.26" lengthAdjust="spacingAndGlyphs">Mission</text>
<text x="3647.91" y="2039.00" font-family="'Liberation Sans', sans-serif" font-size="30.50" fill="#808080" stroke="#808080" stroke-width="0.44" stroke-linejoin="round" textLength="89.46" lengthAdjust="spacingAndGlyphs">NASA</text>
<text x="3749.15" y="2039.00" font-family="'Liberation Sans', sans-serif" font-size="30.50" fill="#808080" stroke="#808080" stroke-width="0.44" stroke-linejoin="round" textLength="88.98" lengthAdjust="spacingAndGlyphs">LaRC</text>
<text x="3366.24" y="2039.00" font-family="'Liberation Mono', monospace" font-size="31.90" fill="#808080" stroke="#808080" stroke-width="0.5" textLength="54.00" lengthAdjust="spacingAndGlyphs">III</text>
<text x="3431.54" y="2039.00" font-family="'Liberation Mono', monospace" font-size="31.90" fill="#808080" stroke="#808080" stroke-width="0.5" textLength="18.00" lengthAdjust="spacingAndGlyphs">I</text>
<text transform="translate(3415.47,2041.84) skewX(-11.37)" font-family="'Liberation Sans', sans-serif" font-size="36.90" fill="#808080" stroke="#808080" stroke-width="0.4">/</text>
<text x="3630.2" y="2039.5" font-family="'Liberation Sans', sans-serif" font-size="33" fill="#808080" stroke="#808080" stroke-width="0.6">|</text>
<text x="3311.59" y="2076.80" font-family="'Liberation Sans', sans-serif" font-size="30.50" fill="#808080" stroke="#808080" stroke-width="0.44" stroke-linejoin="round" textLength="153.07" lengthAdjust="spacingAndGlyphs">Preparer:</text>
<text x="3470.97" y="2076.80" font-family="'Liberation Sans', sans-serif" font-size="30.50" fill="#808080" stroke="#808080" stroke-width="0.44" stroke-linejoin="round" textLength="95.30" lengthAdjust="spacingAndGlyphs">Kevin</text>
<text x="3572.74" y="2076.80" font-family="'Liberation Sans', sans-serif" font-size="30.50" fill="#808080" stroke="#808080" stroke-width="0.44" stroke-linejoin="round" textLength="32.42" lengthAdjust="spacingAndGlyphs">R.</text>
<text x="3611.93" y="2076.80" font-family="'Liberation Sans', sans-serif" font-size="30.50" fill="#808080" stroke="#808080" stroke-width="0.44" stroke-linejoin="round" textLength="114.29" lengthAdjust="spacingAndGlyphs">Leavor</text>
<text x="3735.02" y="2076.80" font-family="'Liberation Sans', sans-serif" font-size="30.50" fill="#808080" stroke="#808080" stroke-width="0.44" stroke-linejoin="round" textLength="104.06" lengthAdjust="spacingAndGlyphs">(AMA)</text>
<text x="3383.85" y="2113.60" font-family="'Liberation Sans', sans-serif" font-size="30.50" fill="#808080" stroke="#808080" stroke-width="0.44" stroke-linejoin="round" textLength="174.13" lengthAdjust="spacingAndGlyphs">Generated</text>
<text x="3565.50" y="2113.60" font-family="'Liberation Sans', sans-serif" font-size="30.50" fill="#808080" stroke="#808080" stroke-width="0.44" stroke-linejoin="round" textLength="182.79" lengthAdjust="spacingAndGlyphs">2026-04-09</text>
<text x="3756.92" y="2113.60" font-family="'Liberation Sans', sans-serif" font-size="30.50" fill="#808080" stroke="#808080" stroke-width="0.44" stroke-linejoin="round" textLength="81.52" lengthAdjust="spacingAndGlyphs">14:17</text>
<text x="3533.21" y="2150.80" font-family="'Liberation Sans', sans-serif" font-size="30.50" fill="#808080" stroke="#808080" stroke-width="0.44" stroke-linejoin="round" textLength="77.09" lengthAdjust="spacingAndGlyphs">Data</text>
<text x="3624.14" y="2150.80" font-family="'Liberation Sans', sans-serif" font-size="30.50" fill="#808080" stroke="#808080" stroke-width="0.44" stroke-linejoin="round" textLength="131.59" lengthAdjust="spacingAndGlyphs">Version:</text>
<text x="3761.14" y="2150.80" font-family="'Liberation Sans', sans-serif" font-size="30.50" fill="#808080" stroke="#808080" stroke-width="0.44" stroke-linejoin="round" textLength="77.01" lengthAdjust="spacingAndGlyphs">6.0.0</text>
<g id="logo">
<defs>
<clipPath id="ringclip"><circle cx="3661.7" cy="220.2" r="126.4"/></clipPath>
<clipPath id="earthclip"><circle cx="3192.1" cy="595.5" r="603.6"/></clipPath>
<clipPath id="moonclip"><circle cx="3637.4" cy="144.1" r="23.7"/></clipPath>
<clipPath id="sunclip"><circle cx="3735.7" cy="280.5" r="22.9"/></clipPath>
<path id="arcpath" d="M 3505.6,221.5 A156.4,156.4 0 0 0 3818.4,221.5" fill="none"/>
<clipPath id="eyeclip"><rect x="3601" y="100" width="200" height="260"/></clipPath>
</defs>
<path d="M3494,51 A33,33 0 0 1 3527,17.7 H3797.2 A33,33 0 0 1 3830.2,51 V223.5 A168.1,168.1 0 0 1 3494,223.5 Z" fill="#ea5f4c"/>
<path d="M3501,51 A26,26 0 0 1 3527,25 H3797.2 A26,26 0 0 1 3823.2,51 V222 A161.1,161.1 0 0 1 3501,222 Z" fill="#04568a"/>
<text x="3525.93" y="58.90" font-family="'Liberation Serif', serif" font-size="40.50" font-weight="bold" fill="#fff" textLength="176.30" lengthAdjust="spacingAndGlyphs">SAGE III</text>
<text x="3731.58" y="58.90" font-family="'Liberation Serif', serif" font-size="40.50" font-weight="bold" fill="#fff" textLength="63.21" lengthAdjust="spacingAndGlyphs">ISS</text>
<circle cx="3716.2" cy="45.6" r="4.2" fill="#fff"/>
<text x="3527.81" y="72.00" font-family="'Liberation Sans', sans-serif" font-size="8.80" fill="#e3edf6" stroke="#e3edf6" stroke-width="0.2" stroke-linejoin="round" textLength="173.80" lengthAdjust="spacingAndGlyphs">Stratospheric Aerosol and Gas Experiment III</text>
<text x="3736.62" y="71.60" font-family="'Liberation Sans', sans-serif" font-size="9.20" fill="#e3edf6" stroke="#e3edf6" stroke-width="0.2" stroke-linejoin="round" textLength="52.52" lengthAdjust="spacingAndGlyphs">International</text>
<text x="3733.06" y="82.80" font-family="'Liberation Sans', sans-serif" font-size="9.20" fill="#e3edf6" stroke="#e3edf6" stroke-width="0.2" stroke-linejoin="round" textLength="60.06" lengthAdjust="spacingAndGlyphs">Space Station</text>
<g clip-path="url(#ringclip)">
<circle cx="3661.7" cy="220.2" r="126.9" fill="#04548a"/>
<circle cx="3192.1" cy="595.5" r="613.6" fill="#0f6eaa"/>
<circle cx="3192.1" cy="595.5" r="603.6" fill="#04548a"/>
<g clip-path="url(#earthclip)">
<polygon points="3600.4,168.2 3615.5,178.8 3623.1,180.4 3633.8,189.5 3645.9,200.1 3655.0,210.7 3662.6,222.9 3664.9,235.0 3662.6,247.2 3668.7,262.3 3671.4,268.4 3661.1,263.1 3652.0,263.9 3645.1,271.4 3642.1,280.6 3645.1,291.2 3652.7,301.8 3661.1,303.3 3667.2,296.5 3665.3,286.6 3668.7,287.4 3671.4,300.3 3676.3,305.6 3685.4,310.9 3691.4,307.9 3695.2,300.3 3700.6,293.5 3709.7,290.4 3715.7,298.0 3733.2,323.8 3729.4,330.6 3696.0,342.8 3694.5,329.1 3696.8,317.0 3695.2,309.4 3689.9,310.2 3682.3,314.7 3673.2,313.2 3661.1,310.9 3652.0,313.2 3641.3,314.7 3627.7,307.9 3615.5,294.2 3600.4,283.6" fill="#5ba16a"/>
<polygon points="3621.6,201.6 3627.7,200.1 3630.7,207.7 3636.8,210.7 3641.3,206.2 3648.9,209.2 3652.0,216.8 3645.9,221.3 3641.3,215.3 3636.8,222.9 3633.8,216.8 3629.2,213.8 3624.6,210.7" fill="#04548a"/>
<polygon points="3608.7,290.4 3615.5,296.5 3623.1,304.8 3628.4,309.1 3629.5,307.9 3623.9,302.6 3616.3,294.2 3609.8,288.9" fill="#5ba16a"/>
</g>
<g clip-path="url(#eyeclip)"><circle cx="3192.1" cy="595.5" r="603.6" fill="none" stroke="#e6f1fa" stroke-width="1.2"/></g>
<line x1="3656.6" y1="159.6" x2="3715.1" y2="192.1" stroke="#e6f1fa" stroke-width="1.1"/>
<line x1="3648.5" y1="168.4" x2="3715.1" y2="192.1" stroke="#e6f1fa" stroke-width="1.1"/>
<line x1="3715.1" y1="192.1" x2="3670.6" y2="225.3" stroke="#e6f1fa" stroke-width="1.1"/>
<line x1="3715.1" y1="192.1" x2="3675.6" y2="232.6" stroke="#e6f1fa" stroke-width="1.1"/>
<line x1="3716.2" y1="194.5" x2="3723.5" y2="259.5" stroke="#e6f1fa" stroke-width="1.1"/>
<line x1="3716.2" y1="194.5" x2="3734.2" y2="257.6" stroke="#e6f1fa" stroke-width="1.1"/>
<circle cx="3637.4" cy="144.1" r="23.7" fill="#ffffff"/>
<g clip-path="url(#moonclip)"><circle cx="3641.4" cy="139.6" r="22.6" fill="#ccd0da"/>
<circle cx="3629" cy="131" r="3.2" fill="#b3b8c5"/>
<circle cx="3637" cy="135" r="4.2" fill="#b3b8c5"/>
<circle cx="3646" cy="137" r="5.5" fill="#b3b8c5"/>
<circle cx="3642" cy="148" r="5.0" fill="#b3b8c5"/>
<circle cx="3650" cy="146" r="3.5" fill="#b3b8c5"/>
<circle cx="3634" cy="142" r="2.6" fill="#b3b8c5"/>
</g>
<circle cx="3735.7" cy="280.5" r="22.9" fill="#c9ccd7"/>
<g clip-path="url(#sunclip)"><circle cx="3743.5" cy="277.5" r="24.5" fill="#fdd98f"/></g>
<path d="M3693.4,106.89999999999999 L3694.6220000000003,115.078 L3702.33,116.3 L3694.6220000000003,117.52199999999999 L3693.4,125.7 L3692.178,117.52199999999999 L3684.4700000000003,116.3 L3692.178,115.078 Z" fill="#fff3d0"/>
<circle cx="3693.4" cy="116.3" r="2.2" fill="#fdd27a"/>
<path d="M3679.8,122.30000000000001 L3680.5280000000002,127.17200000000001 L3685.1200000000003,127.9 L3680.5280000000002,128.62800000000001 L3679.8,133.5 L3679.072,128.62800000000001 L3674.48,127.9 L3679.072,127.17200000000001 Z" fill="#ffffff"/>
<path d="M3703.5,127.0 L3704.072,130.828 L3707.68,131.4 L3704.072,131.972 L3703.5,135.8 L3702.928,131.972 L3699.32,131.4 L3702.928,130.828 Z" fill="#ffffff"/>
<g transform="translate(3728.4,179.4) rotate(45)">
<rect x="-27.20" y="-19" width="2.4" height="38" fill="#c9c6c2"/>
<rect x="-23.80" y="-19" width="2.4" height="38" fill="#c9c6c2"/>
<rect x="-20.40" y="-19" width="2.4" height="38" fill="#c9c6c2"/>
<rect x="-17.00" y="-19" width="2.4" height="38" fill="#c9c6c2"/>
<rect x="14.30" y="-19" width="2.4" height="38" fill="#c9c6c2"/>
<rect x="17.70" y="-19" width="2.4" height="38" fill="#c9c6c2"/>
<rect x="21.10" y="-19" width="2.4" height="38" fill="#c9c6c2"/>
<rect x="24.50" y="-19" width="2.4" height="38" fill="#c9c6c2"/>
<rect x="-27" y="-0.9" width="54" height="1.8" fill="#e4d5c0"/>
<rect x="-11.5" y="-0.5" width="1.6" height="13" fill="#dfe3ea"/><rect x="-6" y="-4" width="1.6" height="19" fill="#dfe3ea"/><rect x="-0.5" y="-6" width="1.6" height="16" fill="#dfe3ea"/><rect x="5" y="-5" width="1.4" height="10" fill="#dfe3ea"/>
<rect x="-13" y="5.2" width="15" height="1.5" fill="#dfe3ea"/><rect x="-8" y="10.5" width="8" height="1.4" fill="#dfe3ea"/><rect x="-3" y="-5.5" width="10" height="1.4" fill="#dfe3ea"/>
</g>
</g>
<circle cx="3661.7" cy="220.2" r="133.7" fill="none" stroke="#d3d5e0" stroke-width="15.599999999999994"/>
<polygon points="3543.0,156.0 3534.2,166.5 3523.1,173.5 3517.5,189.4 3511.0,211.0 3503.5,232.0 3502.6,243.4 3512.0,240.5 3521.2,234.7 3530.0,225.5 3536.5,216.0 3542.0,207.0 3549.0,190.0 3551.0,172.0" fill="#e25a48"/>
<polygon points="3536.4,174.0 3526.4,180.6 3522.0,196.0 3516.5,217.0 3508.0,236.0 3506.5,240.6 3517.0,234.0 3526.0,224.0 3533.0,212.0 3539.0,198.0 3542.0,184.0" fill="#7d1510"/>
<polygon points="3524.5,176.0 3520.0,190.0 3514.5,210.0 3507.0,230.0 3509.5,229.0 3517.5,209.0 3523.0,192.0 3528.0,180.0" fill="#e25a48"/>
<polygon points="3533.0,186.0 3529.0,200.0 3523.0,216.0 3527.0,214.0 3533.5,200.0 3537.0,188.0" fill="#e25a48"/>
<defs><clipPath id="robeclip"><path d="M3480,80 H3700 V215 H3480 Z"/><circle cx="3661.7" cy="220.2" r="126.4"/></clipPath></defs>
<g clip-path="url(#robeclip)">
<polygon points="3542.2,155.4 3546.0,152.0 3551.6,149.8 3558.2,148.7 3563.0,150.0 3570.0,160.0 3576.0,170.0 3580.0,182.0 3590.0,191.0 3600.0,189.5 3607.0,193.0 3608.6,201.0 3606.5,240.0 3607.3,336.0 3528.0,336.0 3532.0,250.0 3540.0,215.0 3546.0,190.0 3541.0,170.0" fill="#e25a48"/>
<polygon points="3542.2,155.3 3546.0,152.3 3551.6,150.1 3558.2,148.8 3562.6,149.8 3565.9,155.3 3570.3,160.9 3573.7,165.3 3568.1,162.0 3561.5,158.7 3553.2,158.1 3546.0,159.8" fill="#b5321f"/>
<polygon points="3546.0,159.8 3553.2,158.1 3561.5,158.7 3568.1,162.0 3573.7,165.3 3575.9,169.7 3578.6,175.2 3573.7,177.4 3568.1,175.2 3562.6,175.8 3557.1,173.0 3551.6,174.1 3547.1,169.7" fill="#e25a48"/>
<polygon points="3547.1,169.7 3551.6,174.1 3557.1,173.0 3562.6,175.8 3568.1,175.2 3573.7,177.4 3578.6,175.2 3580.3,182.4 3577.0,185.2 3570.3,183.5 3564.8,185.2 3558.7,181.8 3553.2,182.4 3548.8,177.4" fill="#b5321f"/>
<polygon points="3553.2,182.4 3558.7,181.8 3564.8,185.2 3570.3,183.5 3577.0,185.2 3584.7,188.5 3590.2,191.2 3595.7,190.1 3602.9,191.8 3607.3,193.4 3606.8,200.0 3551.6,200.0" fill="#e25a48"/>
<polygon points="3567.0,193.0 3587.0,193.0 3604.5,196.5 3607.0,209.0 3600.5,213.5 3580.5,209.0 3563.0,205.0" fill="#b5321f"/>
<polygon points="3571.5,196.5 3589.0,197.5 3602.5,200.5 3603.5,207.0 3589.5,206.0 3574.0,203.0" fill="#e25a48"/>
<polygon points="3546,236 3549.5,242 3553.5,296 3551,288" fill="#b5321f"/>
<polygon points="3546.8,246 3548.9,250 3552.5,296 3550.5,286" fill="#7d1510"/>
<polygon points="3557,230 3560,236 3564,316 3562,308" fill="#b5321f"/>
<polygon points="3557.8,240 3559.4,244 3563,316 3561.5,306" fill="#7d1510"/>
<polygon points="3566.5,228 3570,234 3574,328 3571.5,320" fill="#b5321f"/>
<polygon points="3567.3,238 3569.4,242 3573,328 3571.0,318" fill="#7d1510"/>
<polygon points="3578,232 3581,238 3585,334 3583,326" fill="#b5321f"/>
<polygon points="3578.8,242 3580.4,246 3584,334 3582.5,324" fill="#7d1510"/>
<polygon points="3588.5,236 3591.5,242 3595.5,334 3593.5,326" fill="#b5321f"/>
<polygon points="3589.3,246 3590.9,250 3594.5,334 3593.0,324" fill="#7d1510"/>
<polygon points="3598,238 3600.5,244 3604.5,334 3603,326" fill="#b5321f"/>
<polygon points="3598.8,248 3599.9,252 3603.5,334 3602.5,324" fill="#7d1510"/>
<polygon points="3536,232 3542,230 3552,296 3568,334 3558,334 3541,290" fill="#7d1510"/>
<polygon points="3604,236 3607.5,236 3607.5,334 3603,334" fill="#b5321f"/>
<path d="M3556.5,208.5 Q3575,218 3601.5,224" fill="none" stroke="#6e2413" stroke-width="5.6"/>
<path d="M3556.5,207.5 Q3575,217 3590,221" fill="none" stroke="#b96a35" stroke-width="1.6"/>
<polygon points="3602.7,223.7 3597.4,230.0 3589.3,228.6 3586.5,220.9 3591.8,214.6 3599.9,216.0" fill="#6e2413" stroke="#c8783c" stroke-width="1.6"/>
<text x="3592.0" y="225.7" font-family="'Liberation Serif', serif" font-size="10" font-weight="bold" font-style="italic" fill="#d98a45">S</text>
</g>
<polygon points="3599.6,163.1 3604.0,168.0 3606.8,175.2 3608.4,186.3 3607.9,194.0 3594.6,190.7 3599.1,185.2 3601.0,178.0 3600.4,169.7" fill="#e25a48"/>
<polygon points="3600.2,166.4 3608.4,169.7 3617.8,171.4 3614.5,178.5 3606.8,186.3 3604.0,180.2 3600.7,175.2" fill="#6a1410"/>
<polygon points="3612.3,171.1 3617.6,171.6 3614.5,178.5 3611.2,178.0" fill="#d07038"/>
<polygon points="3610.6,179.6 3615.6,178.5 3616.7,183.5 3614.5,189.0 3611.2,191.8 3607.9,188.5 3607.3,183.5" fill="#e5a860"/>
<polygon points="3577.0,134.4 3584.7,130.5 3593.0,128.8 3601.3,130.5 3606.2,134.9 3606.8,138.8 3600.2,133.8 3593.5,133.3 3589.1,136.0 3588.0,139.3 3584.7,140.4 3580.8,138.8 3578.1,142.1 3578.6,146.0 3580.8,147.6 3581.4,153.1 3584.7,156.4 3590.2,158.1 3597.4,157.5 3599.6,160.9 3598.5,164.2 3600.2,169.7 3600.7,178.0 3598.5,185.2 3594.6,190.1 3590.2,191.2 3584.7,188.5 3580.3,182.4 3578.6,174.1 3575.9,166.9 3570.3,160.9 3565.9,155.3 3562.1,148.7 3560.4,146.0 3565.9,144.3 3571.4,140.4" fill="#ffffff"/>
<polygon points="3589.1,136.0 3593.5,133.3 3600.2,133.8 3606.8,138.8 3605.1,143.2 3601.3,146.5 3602.1,150.9 3599.6,153.7 3597.4,157.5 3590.2,158.1 3584.7,156.4 3581.4,153.1 3580.8,147.6 3583.6,143.2 3588.0,139.3" fill="#e5a860"/>
<polygon points="3584.7,156.4 3581.4,153.1 3580.8,147.6 3583.6,143.2 3588.0,139.3 3589.1,136.0 3592.4,134.9 3590.2,141.0 3586.9,146.0 3587.5,152.0 3590.2,158.1" fill="#c6873d"/>
<polygon points="3577.6,142.1 3580.8,138.7 3583.9,143.2 3582.2,147.9 3578.9,147.2" fill="#c6873d"/>
<polygon points="3592.4,146.0 3596.8,147.6 3596.3,148.7 3592.4,147.3" fill="#3f2a24"/>
<polygon points="3591.9,158.4 3596.8,158.7 3596.3,160.3 3592.4,159.9" fill="#5a3420"/>
<polygon points="3586.4,155.3 3591.3,155.9 3597.4,157.5 3599.3,160.3 3596.8,158.7 3591.9,158.4 3588.0,159.8 3584.7,158.7" fill="#ffffff"/>
<path d="M3534.6,123 L3541,175 L3552.5,262" fill="none" stroke="#8f4519" stroke-width="5.4"/>
<path d="M3534.0,123 L3540.4,175 L3551.9,262" fill="none" stroke="#d38a47" stroke-width="2.4"/>
<path d="M3552.5,262 L3558,275 L3563,292 L3564,300" fill="none" stroke="#d99a3c" stroke-width="1.4"/>
<circle cx="3532.6" cy="113.6" r="10.6" fill="#f4f6fa"/><circle cx="3533.6" cy="113.4" r="9.3" fill="#cbced8"/>
<ellipse cx="3538.8" cy="184.8" rx="9.4" ry="10.5" fill="#e5a860"/>
<path d="M3535.6,176 L3540.8,196" fill="none" stroke="#8f4519" stroke-width="4.6"/>
<ellipse cx="3541.5" cy="187.5" rx="7.2" ry="6.2" fill="#e5a860"/>
<path d="M3535,182.5 h8 M3535,187 h9 M3535.5,191.5 h8" stroke="#c6873d" stroke-width="0.9" fill="none"/>
<path d="M3675.7,353.2 A133.7,133.7 0 0 1 3529.6,241.1" fill="none" stroke="#d3d5e0" stroke-width="15.599999999999994"/>
<polygon points="3511.0,211.0 3503.5,232.0 3502.6,243.4 3512.0,240.5 3521.2,234.7 3527.0,228.5 3520.0,222.0" fill="#e25a48"/>
<polygon points="3516.5,217.0 3508.0,236.0 3506.5,240.6 3517.0,234.0 3524.0,226.5 3519.5,221.0" fill="#7d1510"/>
<text font-family="'Liberation Sans', sans-serif" font-size="15.2" font-weight="bold" fill="#fff" stroke="#fff" stroke-width="0.35" textLength="440.8" lengthAdjust="spacingAndGlyphs" xml:space="preserve"><textPath href="#arcpath" startOffset="37.3">BALL  •  NASA LANGLEY RESEARCH CENTER  •  TAS-I  •  ESA</textPath></text>
</g>
</svg></body></html>
